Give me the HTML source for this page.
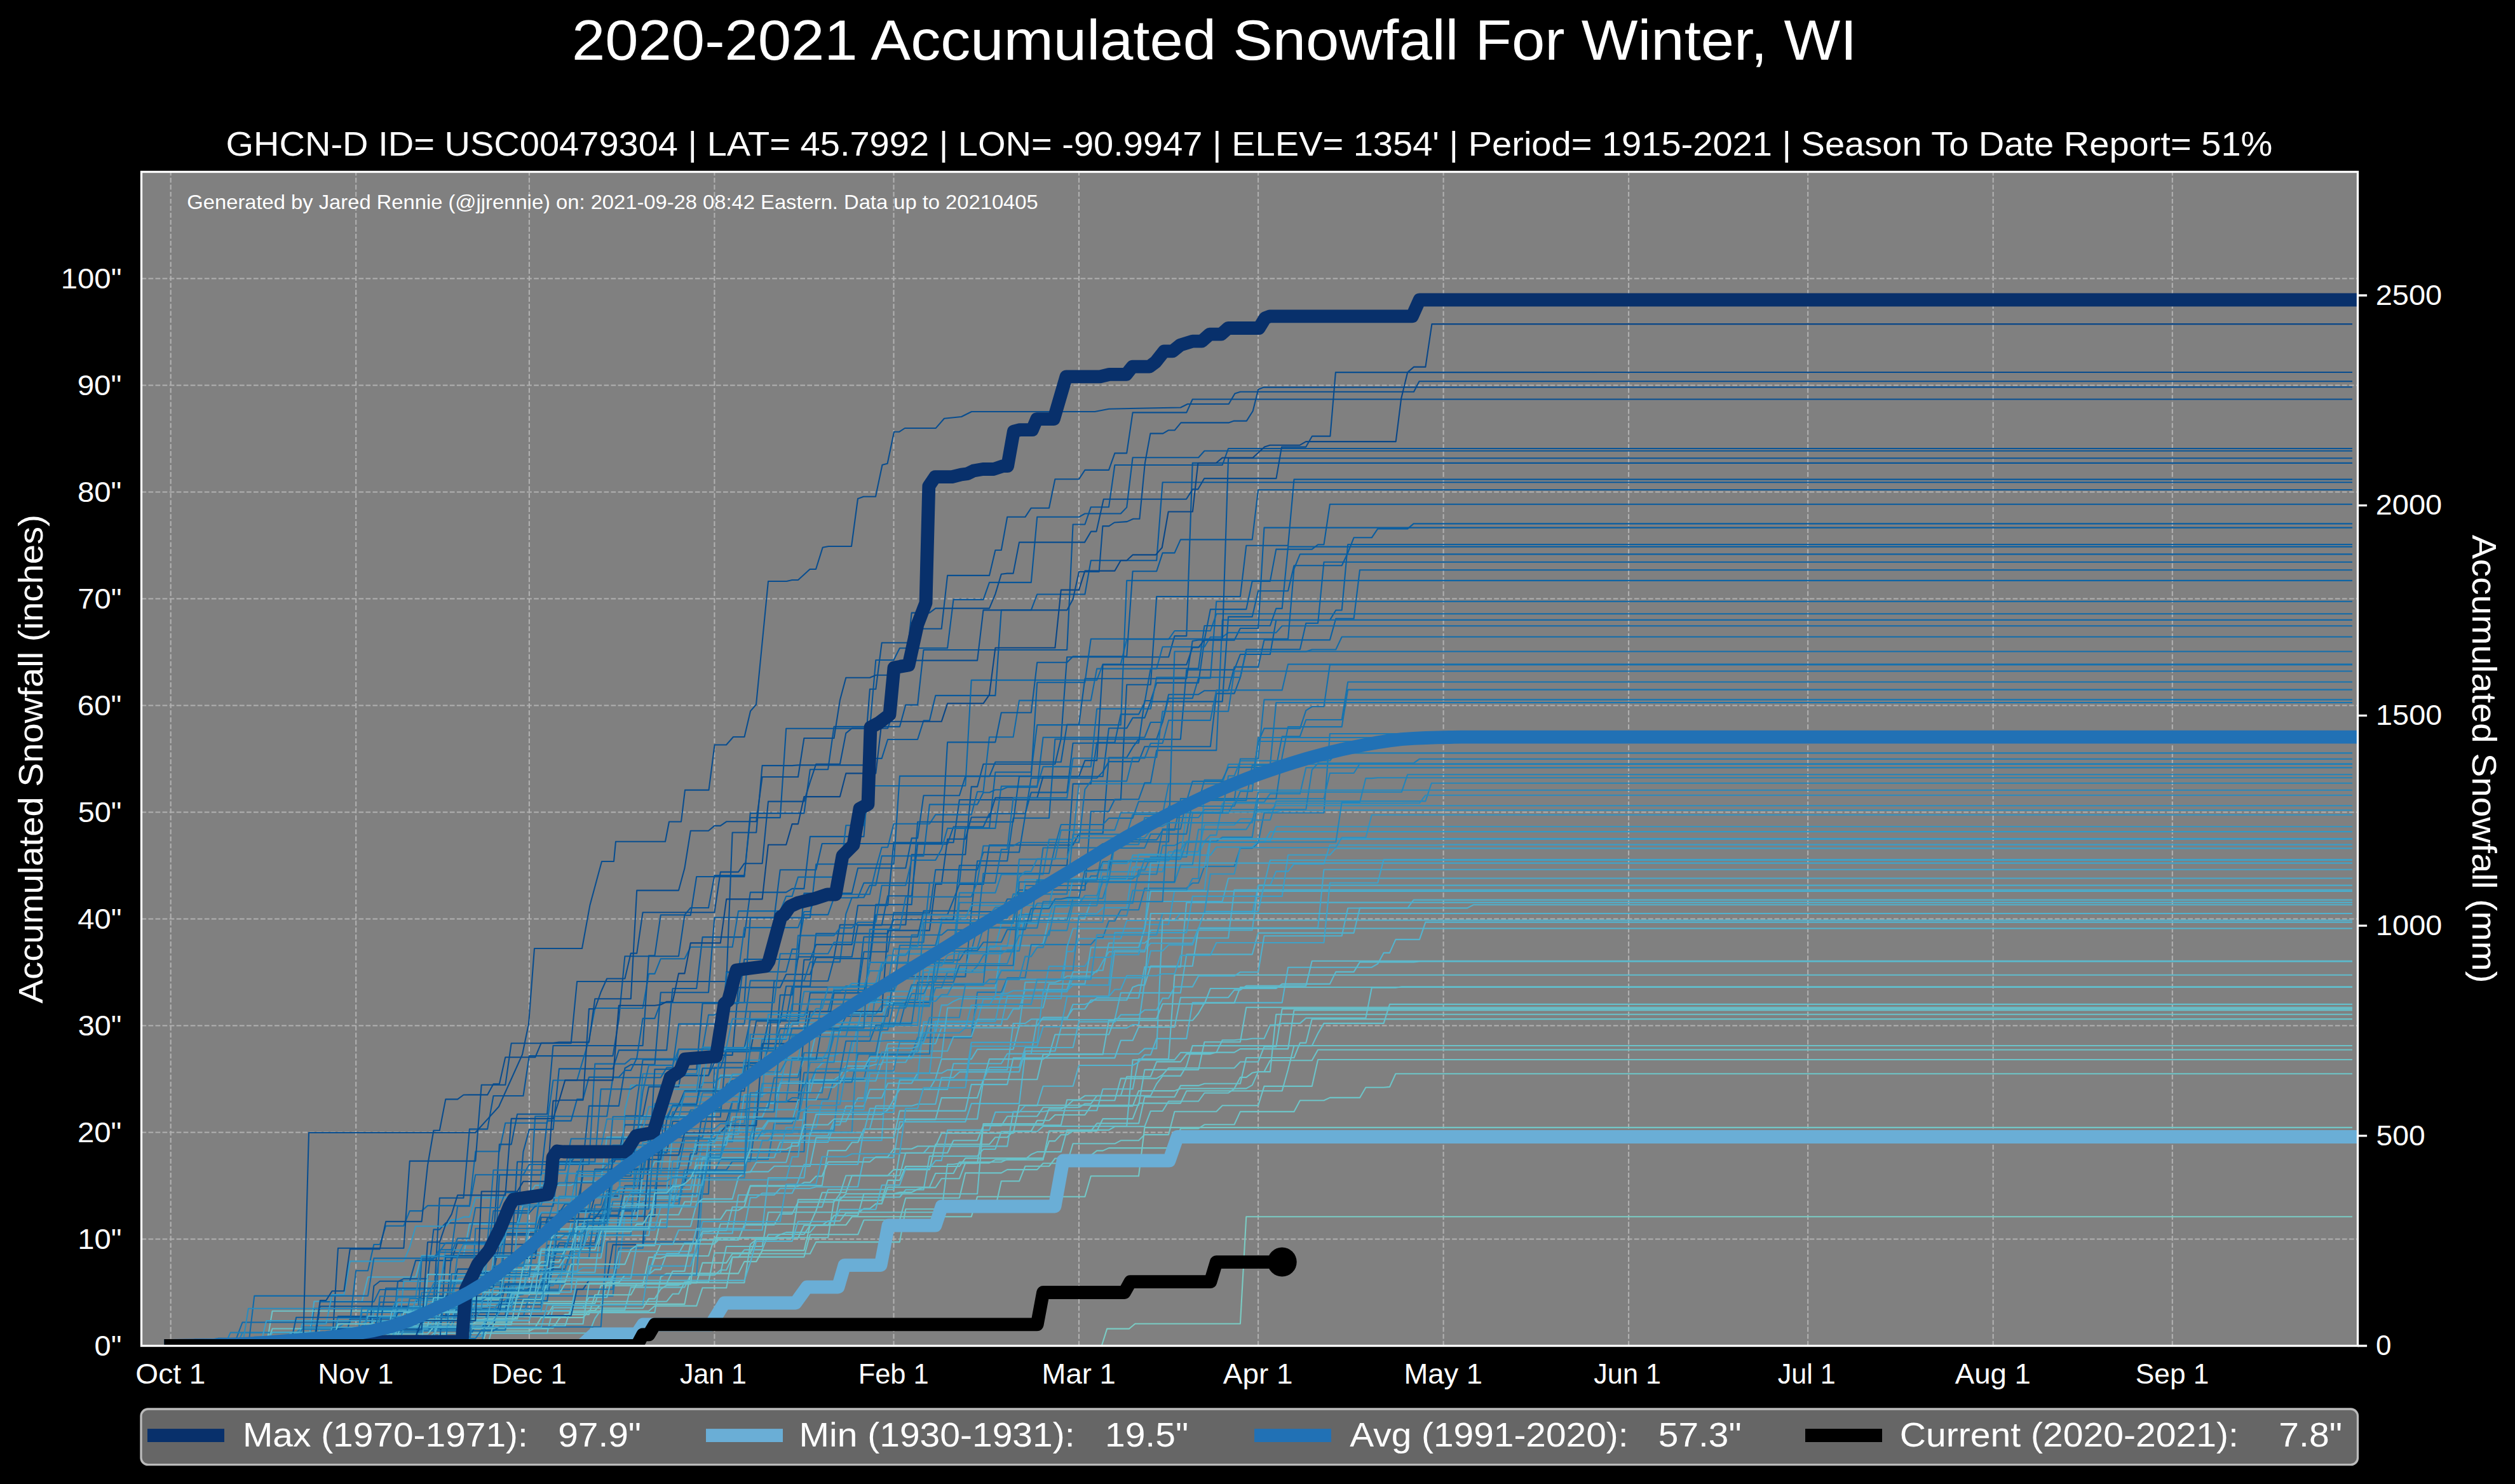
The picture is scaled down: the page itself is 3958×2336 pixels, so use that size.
<!DOCTYPE html><html><head><meta charset="utf-8"><title>Accumulated Snowfall</title><style>html,body{margin:0;padding:0;background:#000;overflow:hidden}svg{display:block}</style></head><body>
<svg width="3958" height="2336" viewBox="0 0 3958 2336" font-family="Liberation Sans, sans-serif">
<rect x="0" y="0" width="3958" height="2336" fill="#000"/>
<defs><clipPath id="ax"><rect x="222.5" y="270.5" width="3488.0" height="1848.0"/></clipPath></defs>
<rect x="222.5" y="270.5" width="3488.0" height="1848.0" fill="#808080"/>
<path d="M268.7 2118.5V270.5M560.2 2118.5V270.5M832.9 2118.5V270.5M1124.4 2118.5V270.5M1406.5 2118.5V270.5M1698.0 2118.5V270.5M1980.1 2118.5V270.5M2271.6 2118.5V270.5M2563.1 2118.5V270.5M2845.2 2118.5V270.5M3136.7 2118.5V270.5M3418.8 2118.5V270.5M222.5 2118.5H3710.5M222.5 1950.5H3710.5M222.5 1782.5H3710.5M222.5 1614.5H3710.5M222.5 1446.5H3710.5M222.5 1278.5H3710.5M222.5 1110.5H3710.5M222.5 942.5H3710.5M222.5 774.5H3710.5M222.5 606.5H3710.5M222.5 438.5H3710.5" stroke="#b0b0b0" stroke-width="2.08" stroke-dasharray="7.7 3.33" fill="none"/>
<g clip-path="url(#ax)" fill="none" stroke-linejoin="round" stroke-linecap="square" stroke-width="2.08">
<path d="M268.7 2118.5 419.2 2118.5 428.6 2114.4 550.8 2114.4 560.2 2113.7 569.6 2090.5 654.2 2090.5 663.6 2077.5 776.5 2077.5 785.9 2057.4 795.3 2057.4 804.7 2052.0 936.3 2052.0 945.7 2023.7 1011.6 2023.7 1021.0 1979.1 1030.4 1979.1 1039.8 1958.2 1124.4 1958.2 1133.8 1926.8 1274.9 1926.8 1284.3 1905.9 1293.7 1877.3 1331.3 1877.3 1340.7 1850.6 1397.1 1850.6 1406.5 1841.1 1462.9 1841.1 1472.3 1801.3 1557.0 1801.3 1566.4 1790.2 1585.2 1790.2 1594.6 1780.5 1622.8 1780.5 1632.2 1763.7 1651.0 1763.7 1660.4 1755.0 1707.4 1755.0 1716.8 1741.1 1782.6 1741.1 1792.0 1717.1 1848.5 1717.1 1857.9 1713.5 1942.5 1713.5 1951.9 1695.9 1961.3 1695.9 1970.7 1688.8 1980.1 1687.0 1989.5 1687.0 1998.9 1669.2 2064.7 1669.2 2074.1 1652.5 3700.9 1652.5" stroke="#6bc4c9"/>
<path d="M268.7 2118.5 494.4 2118.5 503.8 2056.2 682.4 2056.2 691.8 1885.7 729.5 1885.7 738.9 1777.4 767.1 1777.4 776.5 1725.0 823.5 1725.0 832.9 1662.1 964.5 1662.1 973.9 1604.7 983.4 1505.2 1068.0 1505.2 1077.4 1440.7 1086.8 1440.7 1096.2 1380.0 1171.4 1380.0 1180.8 1280.1 1265.4 1280.1 1274.9 1211.2 1303.1 1211.2 1312.5 1143.9 1415.9 1143.9 1425.3 1109.6 1444.1 1109.6 1453.5 1023.0 1679.2 1023.0 1688.6 825.5 1707.4 825.5 1716.8 798.2 1745.0 798.2 1754.4 732.0 1923.7 732.0 1933.1 706.0 3700.9 706.0" stroke="#085497"/>
<path d="M268.7 2118.5 616.6 2118.5 626.0 2017.4 635.4 2012.9 673.0 2012.9 682.4 1935.4 691.8 1935.4 701.3 1925.1 814.1 1925.1 823.5 1813.0 832.9 1777.9 870.5 1777.9 879.9 1682.4 964.5 1682.4 973.9 1653.1 1049.2 1653.1 1058.6 1556.0 1096.2 1556.0 1105.6 1475.1 1162.0 1475.1 1171.4 1475.0 1180.8 1404.6 1237.2 1404.6 1246.6 1398.9 1265.4 1398.9 1274.9 1316.9 1359.5 1316.9 1368.9 1193.9 1387.7 1193.9 1397.1 1164.0 1444.1 1164.0 1453.5 1134.2 1462.9 1134.2 1472.3 1094.9 1566.4 1094.9 1575.8 960.3 1622.8 960.3 1632.2 935.5 1707.4 935.5 1716.8 882.3 1820.2 882.3 1829.6 759.3 3700.9 759.3" stroke="#08589c"/>
<path d="M268.7 2118.5 485.0 2118.5 494.4 2059.8 851.7 2059.8 861.1 1960.6 945.7 1960.6 955.1 1906.2 1002.2 1906.2 1011.6 1814.8 1049.2 1814.8 1058.6 1765.1 1143.2 1765.1 1152.6 1734.1 1256.0 1734.1 1265.4 1625.4 1274.9 1562.8 1359.5 1562.8 1368.9 1515.9 1378.3 1439.8 1491.1 1439.8 1500.5 1416.4 1509.9 1392.0 1547.5 1392.0 1557.0 1330.3 1688.6 1330.3 1698.0 1312.4 1735.6 1312.4 1745.0 1192.6 1773.2 1192.6 1782.6 1176.4 1792.0 1163.7 1857.9 1163.7 1867.3 1054.4 1942.5 1054.4 1951.9 1030.0 1998.9 1030.0 2008.3 976.1 2092.9 976.1 2102.3 960.5 2111.7 960.5 2121.2 857.0 3700.9 857.0" stroke="#085fa3"/>
<path d="M268.7 2118.5 485.0 2118.5 494.4 2048.5 569.6 2048.5 579.0 2010.3 654.2 2010.3 663.6 1976.6 729.5 1976.6 738.9 1926.6 814.1 1926.6 823.5 1895.2 832.9 1880.9 842.3 1865.7 898.7 1865.7 908.1 1859.7 945.7 1859.7 955.1 1790.1 1002.2 1790.1 1011.6 1756.6 1124.4 1756.6 1133.8 1692.6 1152.6 1692.6 1162.0 1691.1 1256.0 1691.1 1265.4 1665.8 1274.9 1665.8 1284.3 1625.7 1321.9 1625.7 1331.3 1594.0 1387.7 1594.0 1397.1 1579.7 1425.3 1579.7 1434.7 1555.4 1566.4 1555.4 1575.8 1488.5 1632.2 1488.5 1641.6 1484.9 1651.0 1445.1 1707.4 1445.1 1716.8 1419.0 1923.7 1419.0 1933.1 1382.5 3700.9 1382.5" stroke="#46a8cb"/>
<path d="M268.7 2118.5 729.5 2118.5 738.9 2072.6 823.5 2072.6 832.9 2040.0 964.5 2040.0 973.9 1964.6 1011.6 1964.6 1021.0 1911.4 1030.4 1897.4 1068.0 1897.4 1077.4 1854.4 1096.2 1854.4 1105.6 1845.2 1124.4 1845.2 1133.8 1824.9 1209.0 1824.9 1218.4 1768.7 1246.6 1768.7 1256.0 1730.3 1303.1 1730.3 1312.5 1698.9 1359.5 1698.9 1368.9 1660.6 1434.7 1660.6 1444.1 1633.4 1528.7 1633.4 1538.1 1561.9 1575.8 1561.9 1585.2 1539.3 1613.4 1539.3 1622.8 1486.9 1716.8 1486.9 1726.2 1476.0 1735.6 1476.0 1745.0 1449.8 1754.4 1449.8 1763.8 1432.3 1792.0 1432.3 1801.4 1398.2 1867.3 1398.2 1876.7 1390.0 1886.1 1390.0 1895.5 1364.0 1904.9 1363.7 1942.5 1363.7 1951.9 1335.2 1970.7 1335.2 1980.1 1326.6 1989.5 1279.5 2083.5 1279.5 2092.9 1155.0 3700.9 1155.0" stroke="#1a7ab5"/>
<path d="M268.7 2118.5 513.2 2118.5 522.6 2103.5 757.7 2103.5 767.1 2060.9 851.7 2060.9 861.1 2022.7 870.5 2000.9 908.1 2000.9 917.5 1995.7 973.9 1995.7 983.4 1913.1 1011.6 1913.1 1021.0 1874.8 1058.6 1874.8 1068.0 1820.4 1133.8 1820.4 1143.2 1796.5 1180.8 1796.5 1190.2 1786.3 1199.6 1786.3 1209.0 1779.7 1218.4 1779.7 1227.8 1702.2 1312.5 1702.2 1321.9 1697.1 1444.1 1697.1 1453.5 1608.6 1538.1 1608.6 1547.5 1572.6 1575.8 1572.6 1585.2 1541.6 1669.8 1541.6 1679.2 1497.7 1688.6 1497.7 1698.0 1477.5 1763.8 1477.5 1773.2 1449.0 1848.5 1449.0 1857.9 1437.6 1970.7 1437.6 1980.1 1393.6 1998.9 1393.6 2008.3 1371.6 2027.1 1371.6 2036.5 1359.9 2083.5 1359.9 2092.9 1330.3 2262.2 1330.3 2271.6 1329.6 3700.9 1329.6" stroke="#3a9cc7"/>
<path d="M268.7 2118.5 485.0 2118.5 494.4 2112.8 522.6 2112.8 532.0 2072.1 729.5 2072.1 738.9 2002.9 776.5 2002.9 785.9 1958.8 851.7 1958.8 861.1 1918.3 926.9 1918.3 936.3 1882.8 973.9 1882.8 983.4 1756.6 1011.6 1756.6 1021.0 1710.7 1068.0 1710.7 1077.4 1660.9 1152.6 1660.9 1162.0 1554.4 1227.8 1554.4 1237.2 1533.7 1274.9 1533.7 1284.3 1507.1 1312.5 1507.1 1321.9 1455.7 1425.3 1455.7 1434.7 1345.2 1519.3 1345.2 1528.7 1238.4 1538.1 1238.4 1547.5 1202.7 1660.4 1202.7 1669.8 1162.7 1679.2 1034.2 1839.1 1034.2 1848.5 1001.1 1867.3 1001.1 1876.7 728.9 3700.9 728.9" stroke="#085699"/>
<path d="M268.7 2118.5 466.2 2118.5 475.6 2113.3 710.7 2113.3 720.1 2098.5 926.9 2098.5 936.3 2075.3 945.7 2061.8 983.4 2061.8 992.8 2026.4 1077.4 2026.4 1086.8 2007.2 1124.4 2007.2 1133.8 1999.3 1143.2 1999.3 1152.6 1979.3 1162.0 1979.3 1171.4 1967.4 1199.6 1967.4 1209.0 1943.4 1227.8 1943.4 1237.2 1939.9 1274.9 1939.9 1284.3 1928.4 1312.5 1928.4 1321.9 1884.5 1415.9 1884.5 1425.3 1872.8 1453.5 1872.8 1462.9 1819.9 1538.1 1819.9 1547.5 1809.0 1566.4 1809.0 1575.8 1781.2 1632.2 1781.2 1641.6 1772.9 1773.2 1772.9 1782.6 1668.4 1848.5 1668.4 1857.9 1656.9 1914.3 1656.9 1923.7 1637.2 1942.5 1637.2 1951.9 1636.3 1961.3 1636.3 1970.7 1634.8 1989.5 1634.8 1998.9 1613.6 2008.3 1613.6 2017.7 1610.9 2045.9 1610.9 2055.3 1602.6 2149.4 1602.6 2158.8 1554.7 2196.4 1554.7 2205.8 1553.3 3700.9 1553.3" stroke="#61becc"/>
<path d="M268.7 2118.5 447.4 2118.5 456.8 2115.9 494.4 2115.9 503.8 2091.3 682.4 2091.3 691.8 2072.4 729.5 2072.4 738.9 2001.3 823.5 2001.3 832.9 1971.5 889.3 1971.5 898.7 1924.7 992.8 1924.7 1002.2 1895.7 1058.6 1895.7 1068.0 1834.5 1086.8 1834.5 1096.2 1791.5 1143.2 1791.5 1152.6 1781.2 1199.6 1781.2 1209.0 1765.2 1246.6 1765.2 1256.0 1731.2 1284.3 1731.2 1293.7 1711.5 1312.5 1711.5 1321.9 1701.5 1378.3 1701.5 1387.7 1672.2 1425.3 1672.2 1434.7 1654.5 1491.1 1654.5 1500.5 1631.9 1528.7 1631.9 1538.1 1604.6 1585.2 1604.6 1594.6 1588.3 1604.0 1588.3 1613.4 1557.7 1679.2 1557.7 1688.6 1530.1 1726.2 1530.1 1735.6 1513.4 1745.0 1498.3 1801.4 1498.3 1810.8 1464.2 1970.7 1464.2 1980.1 1393.6 3700.9 1393.6" stroke="#49abcb"/>
<path d="M268.7 2118.5 597.8 2118.5 607.2 2105.2 720.1 2105.2 729.5 2088.0 738.9 2088.0 748.3 2081.2 804.7 2081.2 814.1 2071.0 861.1 2071.0 870.5 2054.9 945.7 2054.9 955.1 2018.8 973.9 2018.8 983.4 2007.1 1021.0 2007.1 1030.4 1980.5 1039.8 1980.5 1049.2 1977.0 1115.0 1977.0 1124.4 1948.4 1171.4 1948.4 1180.8 1948.3 1303.1 1948.3 1312.5 1889.6 1387.7 1889.6 1397.1 1857.9 1415.9 1857.9 1425.3 1836.0 1509.9 1836.0 1519.3 1823.1 1641.6 1823.1 1651.0 1796.1 1660.4 1796.1 1669.8 1786.3 1679.2 1786.3 1688.6 1780.4 1726.2 1780.4 1735.6 1761.1 1782.6 1761.1 1792.0 1736.6 1857.9 1736.6 1867.3 1717.2 2017.7 1717.2 2027.1 1683.5 2036.5 1646.0 3700.9 1646.0" stroke="#6bc3c9"/>
<path d="M268.7 2118.5 541.4 2118.5 550.8 2095.7 588.4 2095.7 597.8 2049.7 654.2 2049.7 663.6 2039.7 785.9 2039.7 795.3 1944.3 842.3 1944.3 851.7 1909.3 879.9 1909.3 889.3 1895.2 908.1 1895.2 917.5 1851.2 992.8 1851.2 1002.2 1785.2 1021.0 1785.2 1030.4 1775.8 1039.8 1758.3 1133.8 1758.3 1143.2 1649.7 1171.4 1649.7 1180.8 1605.1 1237.2 1605.1 1246.6 1553.8 1350.1 1553.8 1359.5 1474.7 1444.1 1474.7 1453.5 1433.9 1528.7 1433.9 1538.1 1355.2 1585.2 1355.2 1594.6 1287.7 1651.0 1287.7 1660.4 1163.5 1820.2 1163.5 1829.6 1136.1 1839.1 1093.2 1886.1 1093.2 1895.5 1087.2 1933.1 1087.2 1942.5 1049.9 1980.1 1049.9 1989.5 1007.4 2092.9 1007.4 2102.3 973.8 2130.6 973.8 2140.0 897.2 3700.9 897.2" stroke="#0a62a5"/>
<path d="M268.7 2118.5 372.1 2118.5 381.5 2097.7 466.2 2097.7 475.6 2089.1 532.0 2089.1 541.4 2083.6 569.6 2083.6 579.0 2079.6 701.3 2079.6 710.7 2017.9 785.9 2017.9 795.3 1933.2 814.1 1933.2 823.5 1899.8 842.3 1899.8 851.7 1888.8 861.1 1885.9 889.3 1885.9 898.7 1805.0 1002.2 1805.0 1011.6 1690.3 1096.2 1690.3 1105.6 1649.1 1227.8 1649.1 1237.2 1612.3 1256.0 1612.3 1265.4 1560.7 1321.9 1560.7 1331.3 1552.0 1397.1 1552.0 1406.5 1493.6 1500.5 1493.6 1509.9 1405.4 1566.4 1405.4 1575.8 1376.5 1641.6 1376.5 1651.0 1321.4 1688.6 1321.4 1698.0 1233.8 1923.7 1233.8 1933.1 1203.0 3700.9 1203.0" stroke="#1f80b8"/>
<path d="M268.7 2118.5 419.2 2118.5 428.6 2063.8 1021.0 2063.8 1030.4 2055.6 1096.2 2055.6 1105.6 2027.2 1143.2 2027.2 1152.6 1978.6 1265.4 1978.6 1274.9 1943.3 1350.1 1943.3 1359.5 1920.5 1415.9 1920.5 1425.3 1885.8 1509.9 1885.8 1519.3 1846.4 1575.8 1846.4 1585.2 1841.1 1632.2 1841.1 1641.6 1831.3 1679.2 1831.3 1688.6 1800.3 1754.4 1800.3 1763.8 1795.3 1792.0 1795.3 1801.4 1786.1 1839.1 1786.1 1848.5 1749.8 1914.3 1749.8 1923.7 1740.3 1980.1 1740.3 1989.5 1709.9 2064.7 1709.9 2074.1 1668.0 3700.9 1668.0" stroke="#6cc4c9"/>
<path d="M268.7 2118.5 541.4 2118.5 550.8 2076.3 616.6 2076.3 626.0 2057.1 682.4 2057.1 691.8 2041.1 710.7 2041.1 720.1 1997.6 757.7 1997.6 767.1 1954.5 785.9 1954.5 795.3 1941.9 908.1 1941.9 917.5 1832.2 964.5 1832.2 973.9 1816.0 983.4 1770.6 1039.8 1770.6 1049.2 1693.2 1115.0 1693.2 1124.4 1655.5 1180.8 1655.5 1190.2 1607.3 1256.0 1607.3 1265.4 1510.8 1274.9 1510.8 1284.3 1486.9 1340.7 1486.9 1350.1 1425.2 1397.1 1425.2 1406.5 1326.3 1500.5 1326.3 1509.9 1259.0 1763.8 1259.0 1773.2 1077.8 1810.8 1077.8 1820.2 939.0 1951.9 939.0 1961.3 858.8 2027.1 858.8 2036.5 754.6 3700.9 754.6" stroke="#08589b"/>
<path d="M268.7 2118.5 682.4 2118.5 691.8 2099.9 701.3 2099.9 710.7 2048.7 1049.2 2048.7 1058.6 2036.8 1068.0 2036.8 1077.4 2018.2 1115.0 2018.2 1124.4 1972.3 1180.8 1972.3 1190.2 1948.8 1218.4 1948.8 1227.8 1943.0 1265.4 1943.0 1274.9 1928.8 1293.7 1928.8 1303.1 1922.0 1321.9 1922.0 1331.3 1909.4 1350.1 1909.4 1359.5 1902.5 1368.9 1902.5 1378.3 1894.9 1387.7 1894.9 1397.1 1868.7 1462.9 1868.7 1472.3 1847.0 1500.5 1847.0 1509.9 1829.3 1575.8 1829.3 1585.2 1824.9 1613.4 1824.9 1622.8 1817.3 1632.2 1813.1 1669.8 1813.1 1679.2 1778.9 1745.0 1778.9 1754.4 1773.3 1801.4 1773.3 1810.8 1749.0 1829.6 1749.0 1839.1 1733.5 1886.1 1733.5 1895.5 1720.5 1933.1 1720.5 1942.5 1713.8 1951.9 1713.4 1961.3 1713.4 1970.7 1708.1 1980.1 1687.1 1998.9 1687.1 2008.3 1596.7 3700.9 1596.7" stroke="#68c2ca"/>
<path d="M268.7 2118.5 438.0 2118.5 447.4 2109.7 494.4 2109.7 503.8 2049.1 588.4 2049.1 597.8 2030.0 673.0 2030.0 682.4 2026.9 691.8 2026.9 701.3 1979.6 767.1 1979.6 776.5 1906.0 832.9 1906.0 842.3 1757.3 955.1 1757.3 964.5 1696.3 1039.8 1696.3 1049.2 1680.6 1058.6 1680.6 1068.0 1611.9 1171.4 1611.9 1180.8 1543.6 1265.4 1543.6 1274.9 1514.4 1321.9 1514.4 1331.3 1438.7 1340.7 1412.8 1359.5 1412.8 1368.9 1393.6 1378.3 1393.6 1387.7 1347.4 1453.5 1347.4 1462.9 1266.4 1538.1 1266.4 1547.5 1247.5 1557.0 1247.5 1566.4 1243.3 1575.8 1243.3 1585.2 1239.2 1632.2 1239.2 1641.6 1160.7 1801.4 1160.7 1810.8 1137.0 1829.6 1137.0 1839.1 1099.1 1876.7 1099.1 1886.1 1067.5 1904.9 1067.5 1914.3 946.7 3700.9 946.7" stroke="#0d67a8"/>
<path d="M268.7 2118.5 579.0 2118.5 588.4 2062.2 804.7 2062.2 814.1 1925.4 842.3 1925.4 851.7 1908.4 955.1 1908.4 964.5 1808.7 1021.0 1808.7 1030.4 1807.9 1180.8 1807.9 1190.2 1718.9 1199.6 1712.0 1227.8 1712.0 1237.2 1664.5 1293.7 1664.5 1303.1 1662.0 1312.5 1662.0 1321.9 1656.9 1340.7 1656.9 1350.1 1613.3 1387.7 1613.3 1397.1 1568.8 1566.4 1568.8 1575.8 1488.7 1604.0 1488.7 1613.4 1438.1 1726.2 1438.1 1735.6 1428.9 1773.2 1428.9 1782.6 1365.1 1895.5 1365.1 1904.9 1320.0 3700.9 1320.0" stroke="#379ac6"/>
<path d="M268.7 2118.5 607.2 2118.5 616.6 2091.4 710.7 2091.4 720.1 2061.5 795.3 2061.5 804.7 2029.5 964.5 2029.5 973.9 1904.8 992.8 1904.8 1002.2 1839.4 1068.0 1839.4 1077.4 1793.0 1124.4 1793.0 1133.8 1782.3 1143.2 1782.3 1152.6 1734.6 1237.2 1734.6 1246.6 1728.0 1256.0 1728.0 1265.4 1706.9 1274.9 1703.4 1340.7 1703.4 1350.1 1659.3 1462.9 1659.3 1472.3 1497.2 1528.7 1497.2 1538.1 1459.9 1604.0 1459.9 1613.4 1394.0 1707.4 1394.0 1716.8 1378.9 1726.2 1378.9 1735.6 1356.2 1820.2 1356.2 1829.6 1305.1 1857.9 1305.1 1867.3 1259.2 1942.5 1259.2 1951.9 1194.5 1980.1 1194.5 1989.5 1101.4 3700.9 1101.4" stroke="#1775b1"/>
<path d="M268.7 2118.5 757.7 2118.5 767.1 2089.4 842.3 2089.4 851.7 2074.0 917.5 2074.0 926.9 2063.0 936.3 2063.0 945.7 2052.9 1077.4 2052.9 1086.8 2004.6 1162.0 2004.6 1171.4 1985.9 1190.2 1985.9 1199.6 1968.4 1265.4 1968.4 1274.9 1928.3 1331.3 1928.3 1340.7 1915.3 1528.7 1915.3 1538.1 1883.7 1707.4 1883.7 1716.8 1851.3 1792.0 1851.3 1801.4 1774.9 3700.9 1774.9" stroke="#72c8c7"/>
<path d="M268.7 2118.5 541.4 2118.5 550.8 2091.9 701.3 2091.9 710.7 2079.9 720.1 2056.0 776.5 2056.0 785.9 2053.6 851.7 2053.6 861.1 1998.6 870.5 1998.6 879.9 1906.1 945.7 1906.1 955.1 1879.5 1115.0 1879.5 1124.4 1680.6 1171.4 1680.6 1180.8 1674.3 1199.6 1674.3 1209.0 1650.5 1218.4 1650.5 1227.8 1619.1 1321.9 1619.1 1331.3 1599.7 1397.1 1599.7 1406.5 1537.4 1519.3 1537.4 1528.7 1435.1 1575.8 1435.1 1585.2 1415.3 1594.6 1415.3 1604.0 1401.0 1707.4 1401.0 1716.8 1277.3 1745.0 1277.3 1754.4 1258.3 1792.0 1258.3 1801.4 1232.3 1810.8 1232.3 1820.2 1181.1 1914.3 1181.1 1923.7 975.9 3700.9 975.9" stroke="#0f69aa"/>
<path d="M268.7 2118.5 296.9 2118.5 306.3 2113.3 560.2 2113.3 569.6 2066.0 673.0 2066.0 682.4 2048.7 710.7 2048.7 720.1 1976.4 785.9 1976.4 795.3 1927.1 861.1 1927.1 870.5 1894.3 898.7 1894.3 908.1 1843.9 945.7 1843.9 955.1 1834.2 964.5 1823.8 1021.0 1823.8 1030.4 1737.4 1096.2 1737.4 1105.6 1704.2 1124.4 1704.2 1133.8 1695.7 1190.2 1695.7 1199.6 1635.9 1237.2 1635.9 1246.6 1580.5 1359.5 1580.5 1368.9 1576.5 1378.3 1576.5 1387.7 1516.1 1472.3 1516.1 1481.7 1447.8 1538.1 1447.8 1547.5 1445.8 1585.2 1445.8 1594.6 1407.4 1679.2 1407.4 1688.6 1313.4 1773.2 1313.4 1782.6 1282.0 1829.6 1282.0 1839.1 1233.9 1970.7 1233.9 1980.1 1167.0 3700.9 1167.0" stroke="#1b7bb5"/>
<path d="M268.7 2118.5 390.9 2118.5 400.3 2106.0 466.2 2106.0 475.6 2092.2 579.0 2092.2 588.4 2079.6 710.7 2079.6 720.1 2042.5 757.7 2042.5 767.1 2026.2 776.5 2026.2 785.9 2009.6 842.3 2009.6 851.7 1965.5 908.1 1965.5 917.5 1923.7 945.7 1923.7 955.1 1894.8 1011.6 1894.8 1021.0 1872.3 1086.8 1872.3 1096.2 1824.5 1133.8 1824.5 1143.2 1789.7 1180.8 1789.7 1190.2 1776.4 1199.6 1776.4 1209.0 1763.1 1265.4 1763.1 1274.9 1699.9 1312.5 1699.9 1321.9 1693.5 1331.3 1678.1 1368.9 1678.1 1378.3 1675.5 1387.7 1675.5 1397.1 1643.0 1472.3 1643.0 1481.7 1617.8 1604.0 1617.8 1613.4 1546.3 1660.4 1546.3 1669.8 1542.8 1679.2 1536.5 1716.8 1536.5 1726.2 1527.5 1735.6 1527.5 1745.0 1484.5 1801.4 1484.5 1810.8 1476.5 1933.1 1476.5 1942.5 1400.8 3700.9 1400.8" stroke="#4badcc"/>
<path d="M268.7 2118.5 296.9 2118.5 306.3 2108.6 334.5 2108.6 343.9 2106.7 372.1 2106.7 381.5 2081.5 550.8 2081.5 560.2 2000.3 579.0 2000.3 588.4 1959.0 597.8 1959.0 607.2 1929.7 635.4 1929.7 644.8 1906.1 663.6 1906.1 673.0 1897.9 738.9 1897.9 748.3 1812.5 785.9 1812.5 795.3 1767.7 861.1 1767.7 870.5 1700.5 908.1 1700.5 917.5 1668.1 926.9 1637.0 936.3 1587.0 1011.6 1587.0 1021.0 1532.9 1030.4 1532.9 1039.8 1509.2 1077.4 1509.2 1086.8 1490.8 1152.6 1490.8 1162.0 1434.1 1227.8 1434.1 1237.2 1410.9 1246.6 1410.9 1256.0 1380.6 1321.9 1380.6 1331.3 1299.3 1359.5 1299.3 1368.9 1237.0 1519.3 1237.0 1528.7 1070.6 1726.2 1070.6 1735.6 1045.6 1763.8 1045.6 1773.2 1006.3 1839.1 1006.3 1848.5 993.0 1904.9 993.0 1914.3 966.3 3700.9 966.3" stroke="#0e69a9"/>
<path d="M268.7 2118.5 616.6 2118.5 626.0 2116.2 757.7 2116.2 767.1 2071.2 795.3 2071.2 804.7 1981.0 842.3 1981.0 851.7 1923.4 955.1 1923.4 964.5 1812.9 1039.8 1812.9 1049.2 1692.8 1115.0 1692.8 1124.4 1672.8 1218.4 1672.8 1227.8 1566.3 1246.6 1566.3 1256.0 1506.3 1340.7 1506.3 1350.1 1456.4 1387.7 1456.4 1397.1 1410.2 1434.7 1410.2 1444.1 1328.6 1491.1 1328.6 1500.5 1301.5 1547.5 1301.5 1557.0 1280.7 1613.4 1280.7 1622.8 1247.4 1679.2 1247.4 1688.6 1169.7 1792.0 1169.7 1801.4 1103.0 1810.8 1103.0 1820.2 1074.9 1886.1 1074.9 1895.5 1007.8 1942.5 1007.8 1951.9 989.0 1980.1 989.0 1989.5 830.6 3700.9 830.6" stroke="#085da1"/>
<path d="M268.7 2118.5 682.4 2118.5 691.8 1957.1 776.5 1957.1 785.9 1938.8 795.3 1938.8 804.7 1909.4 832.9 1909.4 842.3 1898.7 870.5 1898.7 879.9 1828.7 898.7 1828.7 908.1 1817.1 992.8 1817.1 1002.2 1734.3 1011.6 1668.3 1133.8 1668.3 1143.2 1529.7 1237.2 1529.7 1246.6 1494.1 1256.0 1494.1 1265.4 1439.9 1303.1 1439.9 1312.5 1413.2 1350.1 1413.2 1359.5 1389.9 1509.9 1389.9 1519.3 1303.3 1557.0 1303.3 1566.4 1215.5 1622.8 1215.5 1632.2 1141.1 1763.8 1141.1 1773.2 913.9 3700.9 913.9" stroke="#0b64a6"/>
<path d="M268.7 2118.5 513.2 2118.5 522.6 2094.4 663.6 2094.4 673.0 2055.3 804.7 2055.3 814.1 2044.3 823.5 2029.6 832.9 1976.3 861.1 1976.3 870.5 1944.9 1021.0 1944.9 1030.4 1886.2 1068.0 1886.2 1077.4 1845.4 1171.4 1845.4 1180.8 1788.0 1303.1 1788.0 1312.5 1765.4 1331.3 1765.4 1340.7 1745.1 1350.1 1728.4 1387.7 1728.4 1397.1 1705.3 1434.7 1705.3 1444.1 1689.3 1481.7 1689.3 1491.1 1684.1 1585.2 1684.1 1594.6 1611.0 1613.4 1611.0 1622.8 1604.4 1679.2 1604.4 1688.6 1581.0 1707.4 1581.0 1716.8 1577.8 1726.2 1571.0 1792.0 1571.0 1801.4 1522.1 1857.9 1522.1 1867.3 1420.6 3700.9 1420.6" stroke="#4fb0cd"/>
<path d="M268.7 2118.5 522.6 2118.5 532.0 1964.8 635.4 1964.8 644.8 1827.6 748.3 1827.6 757.7 1707.8 795.3 1707.8 804.7 1642.2 898.7 1642.2 908.1 1545.0 1143.2 1545.0 1152.6 1310.5 1190.2 1310.5 1199.6 1205.1 1246.6 1205.1 1256.0 1204.4 1359.5 1204.4 1368.9 1084.8 1378.3 1084.8 1387.7 1011.8 1434.7 1011.8 1444.1 989.8 1481.7 989.8 1491.1 905.9 1557.0 905.9 1566.4 866.0 1575.8 866.0 1585.2 813.8 1613.4 813.8 1622.8 799.7 1651.0 799.7 1660.4 754.2 1698.0 754.2 1707.4 739.9 1745.0 739.9 1754.4 713.4 1773.2 713.4 1782.6 649.4 1867.3 649.4 1876.7 628.5 3700.9 628.5" stroke="#084f91"/>
<path d="M268.7 2118.5 522.6 2118.5 532.0 2074.6 644.8 2074.6 654.2 2046.6 710.7 2046.6 720.1 2010.3 823.5 2010.3 832.9 1887.9 851.7 1887.9 861.1 1831.1 992.8 1831.1 1002.2 1777.5 1011.6 1777.5 1021.0 1742.3 1068.0 1742.3 1077.4 1726.3 1199.6 1726.3 1209.0 1596.9 1303.1 1596.9 1312.5 1555.5 1331.3 1555.5 1340.7 1548.1 1378.3 1548.1 1387.7 1514.8 1406.5 1514.8 1415.9 1501.6 1472.3 1501.6 1481.7 1444.7 1519.3 1444.7 1528.7 1425.3 1651.0 1425.3 1660.4 1384.1 1669.8 1384.1 1679.2 1377.5 1688.6 1377.5 1698.0 1372.3 1829.6 1372.3 1839.1 1340.7 1886.1 1340.7 1895.5 1298.5 1942.5 1298.5 1951.9 1289.0 1970.7 1289.0 1980.1 1275.6 1998.9 1275.6 2008.3 1268.2 3700.9 1268.2" stroke="#2c8fc0"/>
<path d="M268.7 2118.5 466.2 2118.5 475.6 2083.9 513.2 2083.9 522.6 2038.1 541.4 2038.1 550.8 1985.4 635.4 1985.4 644.8 1963.3 654.2 1930.2 701.3 1930.2 710.7 1920.0 720.1 1920.0 729.5 1915.6 738.9 1915.6 748.3 1885.4 973.9 1885.4 983.4 1747.4 992.8 1708.3 1105.6 1708.3 1115.0 1651.3 1171.4 1651.3 1180.8 1634.7 1237.2 1634.7 1246.6 1609.5 1359.5 1609.5 1368.9 1578.3 1378.3 1578.3 1387.7 1560.5 1434.7 1560.5 1444.1 1524.8 1519.3 1524.8 1528.7 1491.2 1566.4 1491.2 1575.8 1453.7 1632.2 1453.7 1641.6 1427.8 1679.2 1427.8 1688.6 1382.9 1782.6 1382.9 1792.0 1344.7 1886.1 1344.7 1895.5 1325.9 1989.5 1325.9 1998.9 1309.1 3700.9 1309.1" stroke="#3598c4"/>
<path d="M268.7 2118.5 541.4 2118.5 550.8 2095.3 832.9 2095.3 842.3 2090.4 870.5 2090.4 879.9 2076.0 889.3 2069.1 926.9 2069.1 936.3 2038.3 992.8 2038.3 1002.2 2020.9 1011.6 2019.5 1096.2 2019.5 1105.6 1987.9 1143.2 1987.9 1152.6 1973.5 1274.9 1973.5 1284.3 1955.1 1415.9 1955.1 1425.3 1903.2 1491.1 1903.2 1500.5 1901.9 1566.4 1901.9 1575.8 1859.3 1604.0 1859.3 1613.4 1835.8 1651.0 1835.8 1660.4 1823.5 1707.4 1823.5 1716.8 1818.6 1726.2 1811.4 1735.6 1811.4 1745.0 1807.1 1848.5 1807.1 1857.9 1776.4 1886.1 1776.4 1895.5 1770.3 1942.5 1770.3 1951.9 1749.9 2036.5 1749.9 2045.9 1732.2 2083.5 1732.2 2092.9 1727.9 2140.0 1727.9 2149.4 1711.7 2177.6 1711.7 2187.0 1710.9 2196.4 1690.3 3700.9 1690.3" stroke="#6dc5c8"/>
<path d="M268.7 2118.5 579.0 2118.5 588.4 2024.3 597.8 2016.7 644.8 2016.7 654.2 1984.1 710.7 1984.1 720.1 1955.3 776.5 1955.3 785.9 1801.4 804.7 1801.4 814.1 1753.7 861.1 1753.7 870.5 1646.0 1011.6 1646.0 1021.0 1504.4 1030.4 1504.4 1039.8 1440.2 1077.4 1440.2 1086.8 1429.0 1115.0 1429.0 1124.4 1378.1 1171.4 1378.1 1180.8 1287.1 1227.8 1287.1 1237.2 1146.8 1368.9 1146.8 1378.3 1039.0 1406.5 1039.0 1415.9 1020.2 1491.1 1020.2 1500.5 943.9 1547.5 943.9 1557.0 916.9 1622.8 916.9 1632.2 813.8 1698.0 813.8 1707.4 808.5 1763.8 808.5 1773.2 798.6 1782.6 720.2 1886.1 720.2 1895.5 709.7 3700.9 709.7" stroke="#085598"/>
<path d="M268.7 2118.5 353.3 2118.5 362.7 2097.6 616.6 2097.6 626.0 2060.0 738.9 2060.0 748.3 2044.8 767.1 2044.8 776.5 2029.1 814.1 2029.1 823.5 2021.0 898.7 2021.0 908.1 1932.4 955.1 1932.4 964.5 1891.2 1068.0 1891.2 1077.4 1841.4 1105.6 1841.4 1115.0 1817.7 1133.8 1817.7 1143.2 1797.3 1152.6 1797.3 1162.0 1734.6 1237.2 1734.6 1246.6 1666.0 1303.1 1666.0 1312.5 1631.3 1331.3 1631.3 1340.7 1596.3 1378.3 1596.3 1387.7 1582.1 1462.9 1582.1 1472.3 1554.8 1481.7 1554.8 1491.1 1530.2 1528.7 1530.2 1538.1 1520.5 1547.5 1504.1 1557.0 1496.9 1604.0 1496.9 1613.4 1448.8 1679.2 1448.8 1688.6 1414.2 1735.6 1414.2 1745.0 1383.4 1782.6 1383.4 1792.0 1376.2 1820.2 1376.2 1829.6 1330.9 1848.5 1330.9 1857.9 1325.7 1876.7 1325.7 1886.1 1324.2 1914.3 1324.2 1923.7 1317.9 1970.7 1317.9 1980.1 1257.3 2083.5 1257.3 2092.9 1217.0 2130.6 1217.0 2140.0 1202.2 3700.9 1202.2" stroke="#1f80b8"/>
<path d="M268.7 2118.5 663.6 2118.5 673.0 2104.8 738.9 2104.8 748.3 2087.0 776.5 2087.0 785.9 2052.9 795.3 2047.7 861.1 2047.7 870.5 1985.5 879.9 1956.5 936.3 1956.5 945.7 1912.9 973.9 1912.9 983.4 1866.5 1077.4 1866.5 1086.8 1816.5 1096.2 1816.5 1105.6 1748.0 1162.0 1748.0 1171.4 1677.5 1218.4 1677.5 1227.8 1668.4 1284.3 1668.4 1293.7 1614.3 1303.1 1614.3 1312.5 1563.3 1350.1 1563.3 1359.5 1498.3 1397.1 1498.3 1406.5 1436.9 1462.9 1436.9 1472.3 1369.1 1538.1 1369.1 1547.5 1341.5 1604.0 1341.5 1613.4 1283.9 1622.8 1224.7 1726.2 1224.7 1735.6 1214.9 1745.0 1198.9 1792.0 1198.9 1801.4 1175.2 1904.9 1175.2 1914.3 1091.6 1942.5 1091.6 1951.9 1066.5 1961.3 1022.3 2045.9 1022.3 2055.3 981.0 2074.1 981.0 2083.5 884.8 3700.9 884.8" stroke="#0a61a4"/>
<path d="M268.7 2118.5 390.9 2118.5 400.3 2104.5 522.6 2104.5 532.0 2091.2 663.6 2091.2 673.0 2043.8 851.7 2043.8 861.1 1950.4 879.9 1950.4 889.3 1943.7 992.8 1943.7 1002.2 1776.7 1124.4 1776.7 1133.8 1768.8 1171.4 1768.8 1180.8 1687.2 1227.8 1687.2 1237.2 1670.2 1246.6 1631.8 1368.9 1631.8 1378.3 1560.7 1406.5 1560.7 1415.9 1540.8 1500.5 1540.8 1509.9 1498.2 1594.6 1498.2 1604.0 1439.8 1622.8 1439.8 1632.2 1421.7 1782.6 1421.7 1792.0 1369.5 1801.4 1369.5 1810.8 1349.0 1867.3 1349.0 1876.7 1279.9 1933.1 1279.9 1942.5 1262.7 1989.5 1262.7 1998.9 1249.4 2045.9 1249.4 2055.3 1208.4 3700.9 1208.4" stroke="#2081b9"/>
<path d="M268.7 2118.5 447.4 2118.5 456.8 2099.3 607.2 2099.3 616.6 2090.1 626.0 2090.1 635.4 2076.8 729.5 2076.8 738.9 2043.0 776.5 2043.0 785.9 2035.0 804.7 2035.0 814.1 2034.0 851.7 2034.0 861.1 2002.8 936.3 2002.8 945.7 1933.3 973.9 1933.3 983.4 1883.5 1096.2 1883.5 1105.6 1822.3 1218.4 1822.3 1227.8 1798.0 1303.1 1798.0 1312.5 1770.6 1321.9 1770.6 1331.3 1741.2 1359.5 1741.2 1368.9 1714.9 1491.1 1714.9 1500.5 1674.3 1575.8 1674.3 1585.2 1658.8 1622.8 1658.8 1632.2 1605.1 1754.4 1605.1 1763.8 1562.9 1857.9 1562.9 1867.3 1502.4 1970.7 1502.4 1980.1 1468.6 2130.6 1468.6 2140.0 1429.4 2309.2 1429.4 2318.6 1424.3 3700.9 1424.3" stroke="#4fb1cd"/>
<path d="M268.7 2118.5 626.0 2118.5 635.4 2094.1 720.1 2094.1 729.5 2072.5 889.3 2072.5 898.7 2066.1 1030.4 2066.1 1039.8 2010.0 1049.2 2004.7 1133.8 2004.7 1143.2 1962.0 1199.6 1962.0 1209.0 1908.2 1481.7 1908.2 1491.1 1832.7 1500.5 1832.7 1509.9 1831.3 1538.1 1831.3 1547.5 1771.3 1669.8 1771.3 1679.2 1731.2 1698.0 1731.2 1707.4 1724.8 1763.8 1724.8 1773.2 1694.7 1810.8 1694.7 1820.2 1671.4 1857.9 1671.4 1867.3 1659.1 1904.9 1659.1 1914.3 1656.6 1942.5 1656.6 1951.9 1651.1 2027.1 1651.1 2036.5 1590.2 3700.9 1590.2" stroke="#67c1cb"/>
<path d="M268.7 2118.5 419.2 2118.5 428.6 2091.5 861.1 2091.5 870.5 2087.4 889.3 2087.4 898.7 2059.2 1011.6 2059.2 1021.0 2044.4 1030.4 2044.4 1039.8 2029.2 1049.2 2023.1 1068.0 2023.1 1077.4 2019.2 1171.4 2019.2 1180.8 1958.8 1190.2 1951.0 1218.4 1951.0 1227.8 1948.7 1256.0 1948.7 1265.4 1928.7 1303.1 1928.7 1312.5 1913.4 1350.1 1913.4 1359.5 1879.1 1406.5 1879.1 1415.9 1876.9 1434.7 1876.9 1444.1 1872.0 1453.5 1869.4 1472.3 1869.4 1481.7 1855.2 1509.9 1855.2 1519.3 1830.6 1557.0 1830.6 1566.4 1825.6 1641.6 1825.6 1651.0 1780.4 1716.8 1780.4 1726.2 1768.4 1792.0 1768.4 1801.4 1726.8 1848.5 1726.8 1857.9 1708.9 1886.1 1708.9 1895.5 1705.8 1951.9 1705.8 1961.3 1665.0 2036.5 1665.0 2045.9 1641.6 2055.3 1641.6 2064.7 1604.1 3700.9 1604.1" stroke="#69c2ca"/>
<path d="M268.7 2118.5 532.0 2118.5 541.4 2113.1 597.8 2113.1 607.2 2107.8 673.0 2107.8 682.4 2098.7 861.1 2098.7 870.5 2058.5 917.5 2058.5 926.9 2042.2 955.1 2042.2 964.5 2006.1 1021.0 2006.1 1030.4 1998.4 1039.8 1998.4 1049.2 1973.2 1068.0 1973.2 1077.4 1956.5 1096.2 1956.5 1105.6 1938.5 1115.0 1938.5 1124.4 1936.9 1143.2 1936.9 1152.6 1900.1 1293.7 1900.1 1303.1 1872.5 1406.5 1872.5 1415.9 1815.0 1453.5 1815.0 1462.9 1804.4 1585.2 1804.4 1594.6 1749.8 1641.6 1749.8 1651.0 1748.3 1726.2 1748.3 1735.6 1714.3 1782.6 1714.3 1792.0 1667.0 1839.1 1667.0 1848.5 1534.7 3700.9 1534.7" stroke="#5fbccd"/>
<path d="M268.7 2118.5 616.6 2118.5 626.0 2029.1 691.8 2029.1 701.3 1967.5 767.1 1967.5 776.5 1937.6 842.3 1937.6 851.7 1847.1 1039.8 1847.1 1049.2 1777.6 1058.6 1777.6 1068.0 1775.1 1086.8 1775.1 1096.2 1734.8 1162.0 1734.8 1171.4 1668.8 1293.7 1668.8 1303.1 1652.0 1312.5 1609.9 1444.1 1609.9 1453.5 1530.4 1547.5 1530.4 1557.0 1489.4 1585.2 1489.4 1594.6 1443.4 1651.0 1443.4 1660.4 1414.9 1726.2 1414.9 1735.6 1359.1 1773.2 1359.1 1782.6 1351.0 1857.9 1351.0 1867.3 1278.2 2008.3 1278.2 2017.7 1275.3 3700.9 1275.3" stroke="#2e90c0"/>
<path d="M268.7 2118.5 579.0 2118.5 588.4 2091.9 720.1 2091.9 729.5 2048.9 804.7 2048.9 814.1 2038.8 823.5 2037.6 832.9 2027.4 842.3 2027.4 851.7 1997.7 889.3 1997.7 898.7 1967.6 926.9 1967.6 936.3 1914.8 1030.4 1914.8 1039.8 1757.8 1058.6 1757.8 1068.0 1738.8 1096.2 1738.8 1105.6 1681.5 1133.8 1681.5 1143.2 1652.4 1199.6 1652.4 1209.0 1609.7 1227.8 1609.7 1237.2 1552.5 1274.9 1552.5 1284.3 1469.6 1397.1 1469.6 1406.5 1447.5 1500.5 1447.5 1509.9 1362.2 1679.2 1362.2 1688.6 1233.9 1716.8 1233.9 1726.2 1168.8 1754.4 1168.8 1763.8 1124.4 1792.0 1124.4 1801.4 1106.1 1810.8 1052.2 1886.1 1052.2 1895.5 985.0 1998.9 985.0 2008.3 957.9 2017.7 957.9 2027.1 860.6 3700.9 860.6" stroke="#085fa3"/>
<path d="M268.7 2118.5 409.7 2118.5 419.2 2079.0 616.6 2079.0 626.0 2050.5 757.7 2050.5 767.1 2034.2 861.1 2034.2 870.5 1968.7 889.3 1968.7 898.7 1933.8 945.7 1933.8 955.1 1899.3 983.4 1899.3 992.8 1876.9 1011.6 1876.9 1021.0 1852.3 1077.4 1852.3 1086.8 1844.4 1096.2 1844.4 1105.6 1798.6 1124.4 1798.6 1133.8 1776.4 1180.8 1776.4 1190.2 1746.6 1359.5 1746.6 1368.9 1689.4 1462.9 1689.4 1472.3 1607.6 1566.4 1607.6 1575.8 1563.6 1585.2 1563.6 1594.6 1559.5 1679.2 1559.5 1688.6 1550.6 1745.0 1550.6 1754.4 1468.1 1867.3 1468.1 1876.7 1410.9 2017.7 1410.9 2027.1 1345.8 2092.9 1345.8 2102.3 1335.4 3700.9 1335.4" stroke="#3b9ec7"/>
<path d="M268.7 2118.5 654.2 2118.5 663.6 1982.9 673.0 1982.9 682.4 1981.7 691.8 1971.2 710.7 1971.2 720.1 1949.4 738.9 1949.4 748.3 1901.0 785.9 1901.0 795.3 1877.1 870.5 1877.1 879.9 1828.8 936.3 1828.8 945.7 1714.4 992.8 1714.4 1002.2 1708.2 1058.6 1708.2 1068.0 1651.7 1105.6 1651.7 1115.0 1597.6 1124.4 1597.6 1133.8 1592.3 1246.6 1592.3 1256.0 1472.6 1312.5 1472.6 1321.9 1460.6 1340.7 1460.6 1350.1 1451.7 1378.3 1451.7 1387.7 1393.8 1425.3 1393.8 1434.7 1354.0 1472.3 1354.0 1481.7 1336.7 1491.1 1303.9 1566.4 1303.9 1575.8 1237.6 1632.2 1237.6 1641.6 1206.9 1716.8 1206.9 1726.2 1115.8 1810.8 1115.8 1820.2 1066.3 1951.9 1066.3 1961.3 1025.8 2055.3 1025.8 2064.7 1022.5 2102.3 1022.5 2111.7 1002.5 3700.9 1002.5" stroke="#116cab"/>
<path d="M268.7 2118.5 456.8 2118.5 466.2 2107.0 748.3 2107.0 757.7 2093.6 795.3 2093.6 804.7 2031.7 879.9 2031.7 889.3 1957.3 917.5 1957.3 926.9 1912.2 955.1 1912.2 964.5 1842.0 1011.6 1842.0 1021.0 1790.4 1105.6 1790.4 1115.0 1745.4 1133.8 1745.4 1143.2 1706.9 1152.6 1700.8 1171.4 1700.8 1180.8 1592.1 1303.1 1592.1 1312.5 1558.7 1397.1 1558.7 1406.5 1539.9 1425.3 1539.9 1434.7 1471.7 1481.7 1471.7 1491.1 1463.9 1538.1 1463.9 1547.5 1374.9 1651.0 1374.9 1660.4 1332.2 1669.8 1298.0 1735.6 1298.0 1745.0 1287.9 1782.6 1287.9 1792.0 1261.7 1867.3 1261.7 1876.7 1229.9 1970.7 1229.9 1980.1 1168.4 1989.5 1146.6 2045.9 1146.6 2055.3 1118.3 2064.7 1112.3 2083.5 1112.3 2092.9 1046.5 3700.9 1046.5" stroke="#1470ae"/>
<path d="M268.7 2118.5 390.9 2118.5 400.3 2039.9 579.0 2039.9 588.4 1980.6 682.4 1980.6 691.8 1967.2 710.7 1967.2 720.1 1898.7 738.9 1898.7 748.3 1849.2 823.5 1849.2 832.9 1833.0 926.9 1833.0 936.3 1674.6 983.4 1674.6 992.8 1666.9 1133.8 1666.9 1143.2 1531.0 1162.0 1531.0 1171.4 1460.1 1256.0 1460.1 1265.4 1435.0 1274.9 1435.0 1284.3 1407.7 1368.9 1407.7 1378.3 1367.5 1387.7 1333.8 1397.1 1333.8 1406.5 1296.7 1462.9 1296.7 1472.3 1282.4 1528.7 1282.4 1538.1 1246.2 1547.5 1246.2 1557.0 1160.2 1594.6 1160.2 1604.0 1102.6 1716.8 1102.6 1726.2 1052.6 1820.2 1052.6 1829.6 1018.2 1895.5 1018.2 1904.9 1002.8 1923.7 1002.8 1933.1 995.9 2008.3 995.9 2017.7 985.2 3700.9 985.2" stroke="#106aaa"/>
<path d="M268.7 2118.5 456.8 2118.5 466.2 2073.7 701.3 2073.7 710.7 1972.3 842.3 1972.3 851.7 1916.2 898.7 1916.2 908.1 1906.8 926.9 1906.8 936.3 1840.5 1021.0 1840.5 1030.4 1683.2 1096.2 1683.2 1105.6 1579.4 1162.0 1579.4 1171.4 1510.0 1256.0 1510.0 1265.4 1406.1 1340.7 1406.1 1350.1 1366.5 1425.3 1366.5 1434.7 1319.4 1444.1 1319.4 1453.5 1252.3 1509.9 1252.3 1519.3 1222.3 1557.0 1222.3 1566.4 1199.5 1669.8 1199.5 1679.2 1140.6 1698.0 1140.6 1707.4 1068.2 1867.3 1068.2 1876.7 1009.0 1886.1 1007.5 1895.5 1007.5 1904.9 959.1 1961.3 959.1 1970.7 914.9 1998.9 914.9 2008.3 864.6 2064.7 864.6 2074.1 857.2 2083.5 857.2 2092.9 793.7 3700.9 793.7" stroke="#085b9e"/>
<path d="M268.7 2118.5 626.0 2118.5 635.4 2016.9 757.7 2016.9 767.1 1961.5 785.9 1961.5 795.3 1947.2 804.7 1892.5 898.7 1892.5 908.1 1851.5 973.9 1851.5 983.4 1801.1 992.8 1791.2 1030.4 1791.2 1039.8 1761.6 1049.2 1714.5 1143.2 1714.5 1152.6 1690.8 1218.4 1690.8 1227.8 1668.3 1256.0 1668.3 1265.4 1614.8 1350.1 1614.8 1359.5 1577.9 1415.9 1577.9 1425.3 1574.9 1453.5 1574.9 1462.9 1526.8 1594.6 1526.8 1604.0 1455.9 1613.4 1384.7 1773.2 1384.7 1782.6 1346.0 1904.9 1346.0 1914.3 1333.5 1970.7 1333.5 1980.1 1324.5 1998.9 1324.5 2008.3 1301.3 3700.9 1301.3" stroke="#3396c3"/>
<path d="M268.7 2118.5 691.8 2118.5 701.3 1976.6 804.7 1976.6 814.1 1828.7 917.5 1828.7 926.9 1740.9 973.9 1740.9 983.4 1681.5 992.8 1675.9 1030.4 1675.9 1039.8 1562.2 1115.0 1562.2 1124.4 1444.3 1218.4 1444.3 1227.8 1369.2 1284.3 1369.2 1293.7 1328.0 1481.7 1328.0 1491.1 1168.4 1566.4 1168.4 1575.8 1121.8 1622.8 1121.8 1632.2 1042.8 1679.2 1042.8 1688.6 1033.3 1773.2 1033.3 1782.6 899.2 1820.2 899.2 1829.6 870.4 1848.5 870.4 1857.9 849.4 1970.7 849.4 1980.1 771.0 3700.9 771.0" stroke="#08599c"/>
<path d="M268.7 2118.5 456.8 2118.5 466.2 2112.4 475.6 2092.1 635.4 2092.1 644.8 2044.0 738.9 2044.0 748.3 2023.4 851.7 2023.4 861.1 1971.1 889.3 1971.1 898.7 1940.3 908.1 1940.3 917.5 1927.2 945.7 1927.2 955.1 1874.2 1030.4 1874.2 1039.8 1813.0 1265.4 1813.0 1274.9 1621.1 1397.1 1621.1 1406.5 1579.4 1425.3 1579.4 1434.7 1550.4 1547.5 1550.4 1557.0 1449.7 1622.8 1449.7 1632.2 1385.6 1726.2 1385.6 1735.6 1334.9 1801.4 1334.9 1810.8 1312.9 1867.3 1312.9 1876.7 1259.9 1961.3 1259.9 1970.7 1204.6 1998.9 1204.6 2008.3 1106.0 3700.9 1106.0" stroke="#1776b2"/>
<path d="M268.7 2118.5 513.2 2118.5 522.6 2099.1 597.8 2099.1 607.2 2093.2 635.4 2093.2 644.8 2056.6 767.1 2056.6 776.5 1979.0 823.5 1979.0 832.9 1935.9 917.5 1935.9 926.9 1878.4 964.5 1878.4 973.9 1873.4 1049.2 1873.4 1058.6 1785.6 1162.0 1785.6 1171.4 1723.0 1199.6 1723.0 1209.0 1719.5 1274.9 1719.5 1284.3 1683.5 1293.7 1673.8 1303.1 1671.0 1378.3 1671.0 1387.7 1625.6 1472.3 1625.6 1481.7 1582.1 1491.1 1582.1 1500.5 1576.2 1509.9 1572.0 1669.8 1572.0 1679.2 1490.8 1688.6 1461.6 1801.4 1461.6 1810.8 1358.6 3700.9 1358.6" stroke="#41a3c9"/>
<path d="M268.7 2118.5 757.7 2118.5 767.1 2061.7 804.7 2061.7 814.1 1990.4 908.1 1990.4 917.5 1932.2 955.1 1932.2 964.5 1859.1 1049.2 1859.1 1058.6 1854.0 1171.4 1854.0 1180.8 1789.0 1190.2 1759.7 1199.6 1705.5 1274.9 1705.5 1284.3 1682.6 1331.3 1682.6 1340.7 1638.7 1387.7 1638.7 1397.1 1638.1 1453.5 1638.1 1462.9 1601.8 1509.9 1601.8 1519.3 1550.5 1547.5 1550.5 1557.0 1541.6 1604.0 1541.6 1613.4 1505.6 1622.8 1505.6 1632.2 1491.4 1641.6 1491.4 1651.0 1464.6 1679.2 1464.6 1688.6 1422.8 1698.0 1422.8 1707.4 1409.7 1726.2 1409.7 1735.6 1389.1 1848.5 1389.1 1857.9 1361.3 1876.7 1361.3 1886.1 1305.6 1961.3 1305.6 1970.7 1290.7 1998.9 1290.7 2008.3 1261.1 2243.4 1261.1 2252.8 1232.8 3700.9 1232.8" stroke="#2587bb"/>
<path d="M268.7 2118.5 588.4 2118.5 597.8 2094.9 776.5 2094.9 785.9 2088.8 945.7 2088.8 955.1 1954.7 1096.2 1954.7 1105.6 1841.5 1143.2 1841.5 1152.6 1828.2 1180.8 1828.2 1190.2 1760.2 1256.0 1760.2 1265.4 1688.4 1321.9 1688.4 1331.3 1638.8 1368.9 1638.8 1378.3 1613.8 1415.9 1613.8 1425.3 1578.1 1462.9 1578.1 1472.3 1511.3 1509.9 1511.3 1519.3 1496.3 1538.1 1496.3 1547.5 1483.3 1575.8 1483.3 1585.2 1463.3 1613.4 1463.3 1622.8 1430.1 1651.0 1430.1 1660.4 1415.2 1669.8 1415.2 1679.2 1412.9 1698.0 1412.9 1707.4 1370.6 1716.8 1370.6 1726.2 1369.5 1745.0 1369.5 1754.4 1325.3 1839.1 1325.3 1848.5 1025.5 3700.9 1025.5" stroke="#126ead"/>
<path d="M268.7 2118.5 569.6 2118.5 579.0 2089.9 795.3 2089.9 804.7 2034.7 879.9 2034.7 889.3 1965.2 917.5 1965.2 926.9 1939.0 973.9 1939.0 983.4 1900.6 1058.6 1900.6 1068.0 1865.3 1105.6 1865.3 1115.0 1814.3 1227.8 1814.3 1237.2 1774.8 1284.3 1774.8 1293.7 1733.2 1359.5 1733.2 1368.9 1666.4 1434.7 1666.4 1444.1 1647.1 1453.5 1640.7 1462.9 1617.7 1519.3 1617.7 1528.7 1582.3 1557.0 1582.3 1566.4 1566.9 1641.6 1566.9 1651.0 1521.0 1707.4 1521.0 1716.8 1507.0 1745.0 1507.0 1754.4 1502.7 1792.0 1502.7 1801.4 1455.2 1839.1 1455.2 1848.5 1401.4 1895.5 1401.4 1904.9 1321.0 3700.9 1321.0" stroke="#389bc6"/>
<path d="M268.7 2118.5 654.2 2118.5 663.6 2071.0 898.7 2071.0 908.1 2029.5 917.5 2029.5 926.9 2015.5 955.1 2015.5 964.5 1959.4 1011.6 1959.4 1021.0 1818.4 1068.0 1818.4 1077.4 1783.2 1133.8 1783.2 1143.2 1771.8 1190.2 1771.8 1199.6 1642.9 1265.4 1642.9 1274.9 1592.3 1387.7 1592.3 1397.1 1464.6 1462.9 1464.6 1472.3 1391.8 1481.7 1391.8 1491.1 1320.8 1519.3 1320.8 1528.7 1286.5 1557.0 1286.5 1566.4 1255.9 1632.2 1255.9 1641.6 1222.1 1698.0 1222.1 1707.4 1197.1 1726.2 1197.1 1735.6 1046.4 1867.3 1046.4 1876.7 1019.2 1886.1 1019.2 1895.5 1007.1 1923.7 1007.1 1933.1 721.2 3700.9 721.2" stroke="#085599"/>
<path d="M268.7 2118.5 522.6 2118.5 532.0 2116.4 663.6 2116.4 673.0 2006.1 1021.0 2006.1 1030.4 1974.6 1096.2 1974.6 1105.6 1941.5 1152.6 1941.5 1162.0 1881.0 1218.4 1881.0 1227.8 1870.7 1274.9 1870.7 1284.3 1868.3 1350.1 1868.3 1359.5 1822.2 1406.5 1822.2 1415.9 1765.9 1519.3 1765.9 1528.7 1737.1 1604.0 1737.1 1613.4 1659.0 1792.0 1659.0 1801.4 1650.6 1820.2 1650.6 1829.6 1448.5 3700.9 1448.5" stroke="#52b4cf"/>
<path d="M268.7 2118.5 522.6 2118.5 532.0 2090.2 597.8 2090.2 607.2 2027.8 776.5 2027.8 785.9 1849.4 851.7 1849.4 861.1 1764.4 898.7 1764.4 908.1 1730.4 917.5 1730.4 926.9 1695.6 973.9 1695.6 983.4 1684.9 992.8 1684.9 1002.2 1665.7 1011.6 1603.1 1030.4 1603.1 1039.8 1578.1 1171.4 1578.1 1180.8 1444.6 1274.9 1444.6 1284.3 1360.3 1406.5 1360.3 1415.9 1221.6 1622.8 1221.6 1632.2 1074.3 1707.4 1074.3 1716.8 1005.8 2027.1 1005.8 2036.5 895.5 2045.9 872.4 3700.9 872.4" stroke="#0960a4"/>
<path d="M268.7 2118.5 485.0 2118.5 494.4 2104.5 607.2 2104.5 616.6 2097.6 663.6 2097.6 673.0 2041.4 682.4 2020.5 898.7 2020.5 908.1 1852.7 917.5 1813.6 955.1 1813.6 964.5 1802.6 1021.0 1802.6 1030.4 1759.3 1096.2 1759.3 1105.6 1720.2 1124.4 1720.2 1133.8 1653.5 1218.4 1653.5 1227.8 1599.9 1265.4 1599.9 1274.9 1573.1 1359.5 1573.1 1368.9 1514.9 1500.5 1514.9 1509.9 1420.8 1622.8 1420.8 1632.2 1385.0 1745.0 1385.0 1754.4 1329.4 1792.0 1329.4 1801.4 1287.0 1886.1 1287.0 1895.5 1274.2 2055.3 1274.2 2064.7 1211.9 2074.1 1201.4 2224.6 1201.4 2234.0 1194.7 3700.9 1194.7" stroke="#1d7eb7"/>
<path d="M268.7 2118.5 682.4 2118.5 691.8 2015.6 1171.4 2015.6 1180.8 1987.4 1190.2 1953.9 1246.6 1953.9 1256.0 1922.8 1312.5 1922.8 1321.9 1903.8 1378.3 1903.8 1387.7 1865.5 1415.9 1865.5 1425.3 1839.2 1462.9 1839.2 1472.3 1826.9 1481.7 1826.9 1491.1 1778.9 1557.0 1778.9 1566.4 1750.6 1604.0 1750.6 1613.4 1740.4 1632.2 1740.4 1641.6 1709.8 1688.6 1709.8 1698.0 1677.0 1782.6 1677.0 1792.0 1671.9 1801.4 1660.5 1810.8 1660.5 1820.2 1634.9 1867.3 1634.9 1876.7 1578.4 2017.7 1578.4 2027.1 1522.7 2158.8 1522.7 2168.2 1517.2 2177.6 1499.9 2187.0 1499.9 2196.4 1478.9 2234.0 1478.9 2243.4 1451.6 3700.9 1451.6" stroke="#53b4cf"/>
<path d="M268.7 2118.5 673.0 2118.5 682.4 2109.4 738.9 2109.4 748.3 2050.3 795.3 2050.3 804.7 2023.8 870.5 2023.8 879.9 2007.3 1096.2 2007.3 1105.6 1869.1 1115.0 1822.7 1133.8 1822.7 1143.2 1794.9 1190.2 1794.9 1199.6 1779.6 1312.5 1779.6 1321.9 1685.8 1406.5 1685.8 1415.9 1639.4 1444.1 1639.4 1453.5 1576.0 1472.3 1576.0 1481.7 1565.8 1491.1 1565.8 1500.5 1548.3 1566.4 1548.3 1575.8 1527.9 1688.6 1527.9 1698.0 1441.4 1773.2 1441.4 1782.6 1401.6 1867.3 1401.6 1876.7 1383.0 1886.1 1383.0 1895.5 1243.7 3700.9 1243.7" stroke="#2789bd"/>
<path d="M268.7 2118.5 616.6 2118.5 626.0 2087.8 720.1 2087.8 729.5 2051.0 804.7 2051.0 814.1 2026.2 861.1 2026.2 870.5 1965.4 917.5 1965.4 926.9 1924.5 1049.2 1924.5 1058.6 1865.6 1105.6 1865.6 1115.0 1795.1 1387.7 1795.1 1397.1 1650.0 1434.7 1650.0 1444.1 1647.2 1453.5 1612.9 1575.8 1612.9 1585.2 1568.0 1745.0 1568.0 1754.4 1495.7 1801.4 1495.7 1810.8 1484.7 1876.7 1484.7 1886.1 1460.5 2074.1 1460.5 2083.5 1368.8 3700.9 1368.8" stroke="#43a5ca"/>
<path d="M268.7 2118.5 447.4 2118.5 456.8 2113.4 466.2 2113.4 475.6 2104.1 550.8 2104.1 560.2 2092.4 654.2 2092.4 663.6 2067.1 691.8 2067.1 701.3 2045.4 785.9 2045.4 795.3 1998.0 842.3 1998.0 851.7 1986.3 879.9 1986.3 889.3 1967.1 936.3 1967.1 945.7 1938.5 992.8 1938.5 1002.2 1926.9 1011.6 1926.9 1021.0 1912.3 1068.0 1912.3 1077.4 1891.8 1171.4 1891.8 1180.8 1866.3 1293.7 1866.3 1303.1 1811.1 1331.3 1811.1 1340.7 1798.3 1350.1 1798.3 1359.5 1777.2 1415.9 1777.2 1425.3 1762.2 1472.3 1762.2 1481.7 1728.1 1538.1 1728.1 1547.5 1699.3 1632.2 1699.3 1641.6 1659.7 1735.6 1659.7 1745.0 1606.3 1876.7 1606.3 1886.1 1595.0 1895.5 1578.7 1942.5 1578.7 1951.9 1554.0 3700.9 1554.0" stroke="#61becc"/>
<path d="M268.7 2118.5 767.1 2118.5 776.5 2084.9 804.7 2084.9 814.1 2036.4 879.9 2036.4 889.3 2021.1 1086.8 2021.1 1096.2 1951.9 1162.0 1951.9 1171.4 1928.1 1218.4 1928.1 1227.8 1910.9 1246.6 1910.9 1256.0 1892.1 1312.5 1892.1 1321.9 1879.4 1331.3 1850.5 1415.9 1850.5 1425.3 1814.7 1491.1 1814.7 1500.5 1795.2 1538.1 1795.2 1547.5 1772.0 1575.8 1772.0 1585.2 1757.2 1632.2 1757.2 1641.6 1743.3 1698.0 1743.3 1707.4 1737.5 1716.8 1737.5 1726.2 1724.9 1810.8 1724.9 1820.2 1706.1 1829.6 1693.6 1857.9 1693.6 1867.3 1678.0 1876.7 1646.1 2064.7 1646.1 2074.1 1626.8 2083.5 1610.9 2177.6 1610.9 2187.0 1580.9 3700.9 1580.9" stroke="#65c0cb"/>
<path d="M268.7 2118.5 456.8 2118.5 466.2 2099.7 673.0 2099.7 682.4 2088.9 729.5 2088.9 738.9 2076.7 757.7 2076.7 767.1 2075.9 814.1 2075.9 823.5 2045.6 851.7 2045.6 861.1 2018.1 889.3 2018.1 898.7 1990.1 983.4 1990.1 992.8 1966.8 1002.2 1960.7 1030.4 1960.7 1039.8 1919.3 1133.8 1919.3 1143.2 1905.2 1162.0 1905.2 1171.4 1899.3 1180.8 1867.2 1256.0 1867.2 1265.4 1861.3 1274.9 1861.3 1284.3 1851.5 1293.7 1851.5 1303.1 1829.0 1368.9 1829.0 1378.3 1821.2 1397.1 1821.2 1406.5 1808.5 1434.7 1808.5 1444.1 1804.3 1472.3 1804.3 1481.7 1783.8 1594.6 1783.8 1604.0 1739.8 1792.0 1739.8 1801.4 1683.9 1886.1 1683.9 1895.5 1640.3 1951.9 1640.3 1961.3 1585.8 3700.9 1585.8" stroke="#66c1cb"/>
<path d="M268.7 2118.5 390.9 2118.5 400.3 2113.2 419.2 2113.2 428.6 2097.2 569.6 2097.2 579.0 2071.8 691.8 2071.8 701.3 2034.0 898.7 2034.0 908.1 1920.3 1002.2 1920.3 1011.6 1848.0 1021.0 1848.0 1030.4 1828.5 1086.8 1828.5 1096.2 1802.4 1143.2 1802.4 1152.6 1758.3 1199.6 1758.3 1209.0 1736.6 1218.4 1736.6 1227.8 1705.0 1321.9 1705.0 1331.3 1687.2 1340.7 1682.2 1359.5 1682.2 1368.9 1664.7 1481.7 1664.7 1491.1 1586.5 1641.6 1586.5 1651.0 1548.9 1707.4 1548.9 1716.8 1491.4 1792.0 1491.4 1801.4 1461.9 1810.8 1402.9 3700.9 1402.9" stroke="#4badcc"/>
<path d="M268.7 2118.5 550.8 2118.5 560.2 2106.5 569.6 2086.8 691.8 2086.8 701.3 2047.6 757.7 2047.6 767.1 2040.8 785.9 2040.8 795.3 2031.4 851.7 2031.4 861.1 1980.5 926.9 1980.5 936.3 1896.6 945.7 1896.6 955.1 1855.0 1011.6 1855.0 1021.0 1797.4 1049.2 1797.4 1058.6 1750.2 1218.4 1750.2 1227.8 1629.3 1265.4 1629.3 1274.9 1603.0 1321.9 1603.0 1331.3 1558.9 1406.5 1558.9 1415.9 1488.0 1472.3 1488.0 1481.7 1453.0 1594.6 1453.0 1604.0 1405.4 1632.2 1405.4 1641.6 1334.5 1726.2 1334.5 1735.6 1328.2 1754.4 1328.2 1763.8 1322.1 1820.2 1322.1 1829.6 1306.7 1848.5 1306.7 1857.9 1263.3 1886.1 1263.3 1895.5 1227.8 1923.7 1227.8 1933.1 1207.9 2008.3 1207.9 2017.7 1159.2 2045.9 1159.2 2055.3 1133.0 2111.7 1133.0 2121.2 1073.5 3700.9 1073.5" stroke="#1573b0"/>
<path d="M268.7 2118.5 513.2 2118.5 522.6 2090.4 616.6 2090.4 626.0 2066.3 785.9 2066.3 795.3 2021.1 861.1 2021.1 870.5 1918.6 917.5 1918.6 926.9 1918.0 936.3 1918.0 945.7 1904.3 955.1 1904.3 964.5 1825.3 1039.8 1825.3 1049.2 1763.2 1058.6 1739.8 1068.0 1739.8 1077.4 1717.4 1171.4 1717.4 1180.8 1649.8 1209.0 1649.8 1218.4 1544.2 1303.1 1544.2 1312.5 1508.9 1368.9 1508.9 1378.3 1423.9 1434.7 1423.9 1444.1 1293.7 1594.6 1293.7 1604.0 1222.3 1735.6 1222.3 1745.0 1146.3 1773.2 1146.3 1782.6 1129.9 1801.4 1129.9 1810.8 1104.4 1923.7 1104.4 1933.1 970.9 1970.7 970.9 1980.1 930.3 2027.1 930.3 2036.5 890.2 2111.7 890.2 2121.2 870.1 2130.6 846.3 2158.8 846.3 2168.2 832.4 2215.2 832.4 2224.6 824.4 3700.9 824.4" stroke="#085da1"/>
<path d="M268.7 2118.5 616.6 2118.5 626.0 2089.7 767.1 2089.7 776.5 2077.9 795.3 2077.9 804.7 2036.7 832.9 2036.7 842.3 1997.8 861.1 1997.8 870.5 1994.9 879.9 1994.9 889.3 1980.1 945.7 1980.1 955.1 1930.4 973.9 1930.4 983.4 1897.5 1086.8 1897.5 1096.2 1845.3 1180.8 1845.3 1190.2 1829.8 1237.2 1829.8 1246.6 1798.9 1256.0 1798.9 1265.4 1787.9 1274.9 1787.9 1284.3 1754.1 1387.7 1754.1 1397.1 1746.9 1406.5 1730.8 1415.9 1714.6 1462.9 1714.6 1472.3 1698.3 1481.7 1667.1 1528.7 1667.1 1538.1 1651.8 1594.6 1651.8 1604.0 1614.7 1632.2 1614.7 1641.6 1601.6 1679.2 1601.6 1688.6 1588.2 1707.4 1588.2 1716.8 1574.3 1773.2 1574.3 1782.6 1553.9 1792.0 1550.6 1801.4 1550.6 1810.8 1520.7 1876.7 1520.7 1886.1 1461.5 3700.9 1461.5" stroke="#54b5cf"/>
<path d="M268.7 2118.5 381.5 2118.5 390.9 2059.7 757.7 2059.7 767.1 1975.8 870.5 1975.8 879.9 1883.1 964.5 1883.1 973.9 1868.6 1002.2 1868.6 1011.6 1798.4 1115.0 1798.4 1124.4 1782.2 1340.7 1782.2 1350.1 1621.9 1378.3 1621.9 1387.7 1614.1 1444.1 1614.1 1453.5 1520.2 1481.7 1520.2 1491.1 1504.0 1500.5 1501.2 1575.8 1501.2 1585.2 1495.0 1594.6 1495.0 1604.0 1451.7 1735.6 1451.7 1745.0 1354.9 1839.1 1354.9 1848.5 1338.4 1857.9 1338.4 1867.3 1324.2 1895.5 1324.2 1904.9 1314.6 1914.3 1314.6 1923.7 1264.5 2205.8 1264.5 2215.2 1264.3 2234.0 1264.3 2243.4 1251.7 3700.9 1251.7" stroke="#298bbe"/>
<path d="M268.7 2118.5 588.4 2118.5 597.8 2073.3 748.3 2073.3 757.7 2061.4 776.5 2061.4 785.9 2051.1 795.3 2001.1 889.3 2001.1 898.7 1971.4 945.7 1971.4 955.1 1878.7 1105.6 1878.7 1115.0 1822.2 1133.8 1822.2 1143.2 1766.0 1152.6 1766.0 1162.0 1762.0 1256.0 1762.0 1265.4 1717.6 1274.9 1672.2 1312.5 1672.2 1321.9 1616.3 1406.5 1616.3 1415.9 1584.1 1462.9 1584.1 1472.3 1517.0 1585.2 1517.0 1594.6 1491.5 1604.0 1472.3 1651.0 1472.3 1660.4 1425.6 1726.2 1425.6 1735.6 1379.6 1792.0 1379.6 1801.4 1352.7 1857.9 1352.7 1867.3 1325.5 2102.3 1325.5 2111.7 1262.9 2140.0 1262.9 2149.4 1225.1 2158.8 1225.1 2168.2 1224.2 3700.9 1224.2" stroke="#2385ba"/>
<path d="M268.7 2118.5 701.3 2118.5 710.7 2005.0 832.9 2005.0 842.3 1936.4 879.9 1936.4 889.3 1903.3 1021.0 1903.3 1030.4 1771.2 1077.4 1771.2 1086.8 1747.3 1171.4 1747.3 1180.8 1744.0 1209.0 1744.0 1218.4 1696.3 1256.0 1696.3 1265.4 1657.2 1378.3 1657.2 1387.7 1611.4 1434.7 1611.4 1444.1 1546.2 1500.5 1546.2 1509.9 1519.8 1594.6 1519.8 1604.0 1388.3 1848.5 1388.3 1857.9 1257.1 2008.3 1257.1 2017.7 1191.9 2027.1 1144.1 2111.7 1144.1 2121.2 1085.6 3700.9 1085.6" stroke="#1674b0"/>
<path d="M268.7 2118.5 381.5 2118.5 390.9 2113.2 579.0 2113.2 588.4 2102.7 626.0 2102.7 635.4 2066.1 729.5 2066.1 738.9 2034.4 842.3 2034.4 851.7 1967.6 898.7 1967.6 908.1 1930.7 1086.8 1930.7 1096.2 1895.1 1105.6 1887.4 1152.6 1887.4 1162.0 1853.3 1171.4 1845.8 1180.8 1844.4 1209.0 1844.4 1218.4 1835.7 1274.9 1835.7 1284.3 1790.9 1406.5 1790.9 1415.9 1748.6 1519.3 1748.6 1528.7 1707.1 1585.2 1707.1 1594.6 1665.4 1754.4 1665.4 1763.8 1637.8 1782.6 1637.8 1792.0 1616.7 1848.5 1616.7 1857.9 1570.2 1933.1 1570.2 1942.5 1558.4 1951.9 1558.4 1961.3 1551.8 2055.3 1551.8 2064.7 1512.7 3700.9 1512.7" stroke="#5bbacf"/>
<path d="M268.7 2118.5 550.8 2118.5 560.2 2105.4 616.6 2105.4 626.0 2087.3 757.7 2087.3 767.1 2076.6 776.5 2027.8 823.5 2027.8 832.9 2003.5 861.1 2003.5 870.5 2002.6 908.1 2002.6 917.5 1936.2 1030.4 1936.2 1039.8 1899.8 1096.2 1899.8 1105.6 1857.3 1237.2 1857.3 1246.6 1821.0 1256.0 1821.0 1265.4 1750.9 1406.5 1750.9 1415.9 1699.4 1519.3 1699.4 1528.7 1640.9 1632.2 1640.9 1641.6 1561.2 1679.2 1561.2 1688.6 1539.1 1801.4 1539.1 1810.8 1496.7 1829.6 1496.7 1839.1 1487.4 1876.7 1487.4 1886.1 1462.2 1895.5 1434.9 1980.1 1434.9 1989.5 1392.6 1998.9 1354.0 3700.9 1354.0" stroke="#3fa2c8"/>
<path d="M268.7 2118.5 626.0 2118.5 635.4 2091.6 673.0 2091.6 682.4 2079.3 776.5 2079.3 785.9 2064.9 851.7 2064.9 861.1 1976.1 908.1 1976.1 917.5 1962.3 936.3 1962.3 945.7 1932.4 1049.2 1932.4 1058.6 1827.5 1190.2 1827.5 1199.6 1795.4 1209.0 1795.4 1218.4 1783.3 1246.6 1783.3 1256.0 1750.1 1265.4 1747.7 1274.9 1740.3 1312.5 1740.3 1321.9 1738.5 1331.3 1684.4 1378.3 1684.4 1387.7 1656.2 1444.1 1656.2 1453.5 1625.8 1509.9 1625.8 1519.3 1618.3 1528.7 1618.3 1538.1 1580.9 1622.8 1580.9 1632.2 1541.6 1716.8 1541.6 1726.2 1471.6 1820.2 1471.6 1829.6 1437.5 1895.5 1437.5 1904.9 1375.7 1942.5 1375.7 1951.9 1334.2 2102.3 1334.2 2111.7 1318.2 2149.4 1318.2 2158.8 1282.7 3700.9 1282.7" stroke="#3092c1"/>
<path d="M268.7 2118.5 607.2 2118.5 616.6 2064.2 861.1 2064.2 870.5 2063.0 898.7 2063.0 908.1 2014.1 945.7 2014.1 955.1 2013.6 964.5 2013.6 973.9 1969.7 1086.8 1969.7 1096.2 1933.7 1171.4 1933.7 1180.8 1885.2 1190.2 1885.2 1199.6 1878.3 1246.6 1878.3 1256.0 1859.7 1265.4 1833.0 1350.1 1833.0 1359.5 1777.1 1368.9 1777.1 1378.3 1740.8 1434.7 1740.8 1444.1 1738.0 1472.3 1738.0 1481.7 1696.3 1500.5 1696.3 1509.9 1687.4 1604.0 1687.4 1613.4 1654.5 1660.4 1654.5 1669.8 1618.1 1773.2 1618.1 1782.6 1613.0 1792.0 1613.0 1801.4 1545.5 1810.8 1438.0 3700.9 1438.0" stroke="#51b2ce"/>
<path d="M268.7 2118.5 654.2 2118.5 663.6 2034.5 729.5 2034.5 738.9 2009.3 832.9 2009.3 842.3 1941.3 917.5 1941.3 926.9 1925.4 955.1 1925.4 964.5 1847.6 1171.4 1847.6 1180.8 1720.3 1293.7 1720.3 1303.1 1666.5 1312.5 1622.2 1387.7 1622.2 1397.1 1586.7 1425.3 1586.7 1434.7 1564.1 1453.5 1564.1 1462.9 1545.4 1472.3 1545.4 1481.7 1492.9 1538.1 1492.9 1547.5 1460.8 1632.2 1460.8 1641.6 1419.3 1829.6 1419.3 1839.1 1269.0 1942.5 1269.0 1951.9 1245.8 1970.7 1245.8 1980.1 1161.0 3700.9 1161.0" stroke="#1b7bb5"/>
<path d="M268.7 2118.5 579.0 2118.5 588.4 2087.3 673.0 2087.3 682.4 2042.7 814.1 2042.7 823.5 1992.3 861.1 1992.3 870.5 1934.2 1021.0 1934.2 1030.4 1877.8 1049.2 1877.8 1058.6 1867.6 1068.0 1867.6 1077.4 1863.3 1086.8 1854.7 1096.2 1834.2 1171.4 1834.2 1180.8 1809.3 1237.2 1809.3 1246.6 1804.0 1256.0 1804.0 1265.4 1770.5 1303.1 1770.5 1312.5 1761.5 1538.1 1761.5 1547.5 1701.5 1557.0 1667.1 1641.6 1667.1 1651.0 1661.0 1660.4 1628.5 1745.0 1628.5 1754.4 1603.5 1820.2 1603.5 1829.6 1580.2 1895.5 1580.2 1904.9 1556.0 2008.3 1556.0 2017.7 1548.9 2092.9 1548.9 2102.3 1529.9 2130.6 1529.9 2140.0 1514.4 2224.6 1514.4 2234.0 1513.5 3700.9 1513.5" stroke="#5bbbce"/>
<path d="M268.7 2118.5 560.2 2118.5 569.6 2058.6 720.1 2058.6 729.5 2031.3 767.1 2031.3 776.5 1992.9 823.5 1992.9 832.9 1951.8 898.7 1951.8 908.1 1903.8 926.9 1903.8 936.3 1842.8 1171.4 1842.8 1180.8 1628.2 1284.3 1628.2 1293.7 1573.9 1444.1 1573.9 1453.5 1452.1 1594.6 1452.1 1604.0 1352.5 1660.4 1352.5 1669.8 1306.6 1754.4 1306.6 1763.8 1279.5 1923.7 1279.5 1933.1 1221.3 1942.5 1221.3 1951.9 1197.5 2092.9 1197.5 2102.3 1185.4 3700.9 1185.4" stroke="#1c7db6"/>
<path d="M268.7 2118.5 513.2 2118.5 522.6 2089.5 851.7 2089.5 861.1 2054.2 1011.6 2054.2 1021.0 1992.9 1086.8 1992.9 1096.2 1962.7 1105.6 1923.0 1227.8 1923.0 1237.2 1864.2 1284.3 1864.2 1293.7 1820.7 1331.3 1820.7 1340.7 1816.3 1415.9 1816.3 1425.3 1744.7 1444.1 1744.7 1453.5 1712.3 1519.3 1712.3 1528.7 1646.8 1632.2 1646.8 1641.6 1616.3 1669.8 1616.3 1679.2 1568.7 1745.0 1568.7 1754.4 1557.5 1763.8 1557.5 1773.2 1535.8 1820.2 1535.8 1829.6 1533.0 1848.5 1533.0 1857.9 1503.8 1904.9 1503.8 1914.3 1484.0 2083.5 1484.0 2092.9 1389.8 2168.2 1389.8 2177.6 1353.0 3700.9 1353.0" stroke="#3fa2c8"/>
<path d="M268.7 2118.5 738.9 2118.5 748.3 1933.7 842.3 1933.7 851.7 1869.3 870.5 1869.3 879.9 1861.8 955.1 1861.8 964.5 1757.7 1049.2 1757.7 1058.6 1740.7 1105.6 1740.7 1115.0 1733.9 1124.4 1733.9 1133.8 1654.5 1237.2 1654.5 1246.6 1618.2 1359.5 1618.2 1368.9 1462.9 1415.9 1462.9 1425.3 1411.7 1528.7 1411.7 1538.1 1387.8 1547.5 1331.5 1594.6 1331.5 1604.0 1326.2 1698.0 1326.2 1707.4 1242.7 1716.8 1229.6 1773.2 1229.6 1782.6 1192.3 1820.2 1192.3 1829.6 1119.7 1933.1 1119.7 1942.5 1056.5 3700.9 1056.5" stroke="#1471af"/>
<path d="M268.7 2118.5 569.6 2118.5 579.0 2061.8 616.6 2061.8 626.0 2042.5 654.2 2042.5 663.6 1977.9 720.1 1977.9 729.5 1958.6 785.9 1958.6 795.3 1896.8 851.7 1896.8 861.1 1862.3 889.3 1862.3 898.7 1823.3 926.9 1823.3 936.3 1807.3 945.7 1807.3 955.1 1761.5 1068.0 1761.5 1077.4 1719.0 1096.2 1719.0 1105.6 1648.5 1143.2 1648.5 1152.6 1603.7 1265.4 1603.7 1274.9 1602.9 1284.3 1587.8 1293.7 1587.8 1303.1 1554.0 1359.5 1554.0 1368.9 1528.2 1387.7 1528.2 1397.1 1503.7 1425.3 1503.7 1434.7 1490.2 1444.1 1490.2 1453.5 1440.3 1557.0 1440.3 1566.4 1428.4 1594.6 1428.4 1604.0 1380.7 1613.4 1371.7 1622.8 1371.7 1632.2 1351.8 1679.2 1351.8 1688.6 1319.0 1801.4 1319.0 1810.8 1307.0 1820.2 1300.6 1829.6 1300.6 1839.1 1295.1 1970.7 1295.1 1980.1 1246.8 2205.8 1246.8 2215.2 1219.2 3700.9 1219.2" stroke="#2284ba"/>
<path d="M268.7 2118.5 409.7 2118.5 419.2 2114.5 522.6 2114.5 532.0 2084.0 917.5 2084.0 926.9 2020.1 1049.2 2020.1 1058.6 2001.0 1077.4 2001.0 1086.8 1958.0 1124.4 1958.0 1133.8 1948.5 1246.6 1948.5 1256.0 1888.4 1321.9 1888.4 1331.3 1879.2 1538.1 1879.2 1547.5 1769.0 1641.6 1769.0 1651.0 1745.5 1669.8 1745.5 1679.2 1740.7 1688.6 1732.2 1754.4 1732.2 1763.8 1697.6 1820.2 1697.6 1829.6 1691.9 1839.1 1681.3 1942.5 1681.3 1951.9 1671.5 1980.1 1671.5 1989.5 1647.7 2008.3 1647.7 2017.7 1588.0 3700.9 1588.0" stroke="#67c1cb"/>
<path d="M268.7 2118.5 588.4 2118.5 597.8 2040.5 682.4 2040.5 691.8 1970.2 701.3 1956.3 767.1 1956.3 776.5 1841.8 889.3 1841.8 898.7 1792.5 1002.2 1792.5 1011.6 1718.5 1021.0 1676.9 1058.6 1676.9 1068.0 1651.6 1124.4 1651.6 1133.8 1578.1 1218.4 1578.1 1227.8 1501.3 1303.1 1501.3 1312.5 1483.4 1453.5 1483.4 1462.9 1389.9 1566.4 1389.9 1575.8 1337.0 1585.2 1337.0 1594.6 1256.1 1679.2 1256.1 1688.6 1193.5 1801.4 1193.5 1810.8 1170.0 1829.6 1170.0 1839.1 1133.9 1904.9 1133.9 1914.3 1086.4 2017.7 1086.4 2027.1 1045.6 3700.9 1045.6" stroke="#1470ae"/>
<path d="M268.7 2118.5 485.0 2118.5 494.4 2104.9 682.4 2104.9 691.8 2078.6 832.9 2078.6 842.3 2045.6 851.7 2012.4 992.8 2012.4 1002.2 1959.0 1058.6 1959.0 1068.0 1936.3 1199.6 1936.3 1209.0 1854.1 1265.4 1854.1 1274.9 1782.8 1359.5 1782.8 1368.9 1744.9 1406.5 1744.9 1415.9 1700.3 1547.5 1700.3 1557.0 1680.1 1604.0 1680.1 1613.4 1649.0 1688.6 1649.0 1698.0 1608.5 1754.4 1608.5 1763.8 1597.4 1792.0 1597.4 1801.4 1589.7 1820.2 1589.7 1829.6 1571.4 1839.1 1571.4 1848.5 1553.4 1876.7 1553.4 1886.1 1536.3 1942.5 1536.3 1951.9 1530.2 1980.1 1530.2 1989.5 1473.2 2111.7 1473.2 2121.2 1429.5 2215.2 1429.5 2224.6 1416.6 3700.9 1416.6" stroke="#4eb0cd"/>
<path d="M268.7 2118.5 1733.7 2118.5 1742.2 2091.6 1777.0 2091.6 1786.4 2083.7 1951.9 2083.7 1961.3 1915.2 3700.9 1915.2" stroke="#7accc4"/>
<path d="M268.7 2118.5 477.0 2118.5 486.0 1783.0 748.0 1783.0 785.0 1742.0 822.0 1660.0 832.0 1611.5 841.0 1493.0 916.0 1493.0 928.5 1424.4 947.0 1356.0 966.0 1356.0 969.0 1324.7 1047.0 1324.7 1053.0 1293.5 1072.0 1293.5 1078.0 1243.6 1115.5 1243.6 1124.6 1172.5 1143.0 1172.5 1154.0 1160.0 1171.5 1160.0 1181.0 1119.4 1190.0 1109.0 1209.0 915.0 1238.0 915.0 1246.5 913.0 1256.0 913.0 1274.6 896.0 1284.0 896.0 1294.7 861.7 1304.0 860.0 1340.0 860.0 1350.0 785.0 1359.0 781.7 1378.0 781.7 1388.5 731.7 1396.6 729.8 1407.0 679.8 1415.0 679.8 1424.0 674.0 1472.8 673.9 1486.0 658.8 1513.0 656.0 1529.0 648.0 1723.0 648.0 1745.0 643.7 1858.0 641.5 1869.0 636.0 1933.7 636.0 1943.4 619.5 1951.9 616.7 2225.0 616.7 2233.5 600.3 3700.9 600.3" stroke="#084d8f"/>
<path d="M268.7 2118.5 597.8 2118.5 607.2 2104.0 654.2 2104.0 663.6 2078.8 748.3 2078.8 757.7 1875.5 814.1 1875.5 823.5 1859.8 861.1 1859.8 870.5 1732.8 879.9 1732.8 889.3 1700.4 964.5 1700.4 973.9 1582.7 1030.4 1582.7 1039.8 1581.5 1039.8 1581.5 1049.2 1576.8 1058.6 1576.8 1068.0 1532.4 1077.4 1532.4 1086.8 1484.4 1133.8 1484.4 1143.2 1415.4 1199.6 1415.4 1209.0 1329.7 1237.2 1329.7 1246.6 1297.1 1256.0 1297.1 1265.4 1254.1 1321.9 1254.1 1331.3 1217.4 1378.3 1217.4 1387.7 1135.8 1481.7 1135.8 1491.1 1107.3 1547.5 1107.3 1557.0 1093.6 1557.0 1093.6 1566.4 1019.8 1660.4 1019.8 1669.8 928.6 1698.0 928.6 1707.4 898.6 1754.4 898.6 1763.8 882.3 1773.2 882.3 1782.6 873.4 1809.5 873.4 1818.9 873.4 1828.8 862.0 1838.7 805.5 1876.9 805.5 1885.4 729.0 1913.7 729.0 1923.6 720.6 1971.7 720.6 1990.0 703.6 1998.6 700.8 2045.3 700.8 2055.2 695.1 2196.7 695.1 2205.2 627.2 2215.2 586.1 2225.0 577.6 2243.4 577.6 2253.4 510.1 3700.9 510.1" stroke="#084688"/>
<path d="M268.7 2118.5 494.4 2118.5 503.8 2047.0 513.2 2047.0 522.6 2032.3 541.4 2032.3 550.8 1966.1 597.8 1966.1 607.2 1922.9 663.6 1922.9 673.0 1834.4 673.0 1834.4 682.4 1779.5 691.8 1779.5 701.3 1730.4 720.1 1730.4 729.5 1723.5 729.5 1723.5 738.9 1723.4 767.1 1723.4 776.5 1706.2 785.9 1706.2 795.3 1664.3 842.3 1664.3 851.7 1641.9 870.5 1641.9 879.9 1640.6 926.9 1640.6 936.3 1572.3 992.8 1572.3 1002.2 1401.6 1068.0 1401.6 1077.4 1366.8 1077.4 1366.8 1086.8 1307.7 1115.0 1307.7 1124.4 1299.9 1133.8 1299.9 1143.2 1293.3 1190.2 1293.3 1199.6 1223.0 1256.0 1223.0 1265.4 1162.0 1312.5 1162.0 1321.9 1102.1 1321.9 1102.1 1331.3 1066.8 1368.9 1066.8 1378.3 1062.7 1406.5 1062.7 1415.9 1051.3 1425.3 1051.3 1434.7 964.6 1462.9 964.6 1472.3 957.6 1557.0 957.6 1566.4 935.1 1566.4 935.1 1575.8 903.7 1575.8 903.7 1585.2 902.6 1594.6 902.6 1604.0 853.6 1690.6 853.6 1700.0 853.6 1707.0 853.6 1717.0 836.6 1725.5 836.6 1736.8 785.7 1867.0 785.7 1876.9 770.1 1885.4 770.1 1895.3 753.1 2008.5 753.1 2017.0 703.6 2055.2 703.6 2065.0 686.6 2093.4 686.6 2101.9 586.1 3700.9 586.0" stroke="#084c8e"/>
<path d="M268.7 2118.5 503.8 2118.5 513.2 2104.5 522.6 2104.5 532.0 2092.4 663.6 2092.4 673.0 1955.3 691.8 1955.3 701.3 1927.3 701.3 1927.3 710.7 1911.4 710.7 1911.4 720.1 1881.4 795.3 1881.4 804.7 1760.9 870.5 1760.9 879.9 1731.7 917.5 1731.7 926.9 1588.1 936.3 1588.1 945.7 1561.5 945.7 1561.5 955.1 1540.5 983.4 1540.5 992.8 1500.6 1002.2 1500.6 1011.6 1436.2 1124.4 1436.2 1133.8 1372.6 1162.0 1372.6 1171.4 1359.2 1199.6 1359.2 1209.0 1261.6 1265.4 1261.6 1274.9 1231.0 1274.9 1231.0 1284.3 1202.7 1321.9 1202.7 1331.3 1154.1 1331.3 1154.1 1340.7 1146.5 1397.1 1146.5 1406.5 1119.5 1406.5 1119.5 1415.9 1039.6 1538.1 1039.6 1547.5 960.4 1679.2 960.4 1688.6 943.2 1688.6 943.2 1698.0 900.0 1720.3 900.0 1729.7 900.0 1735.4 828.1 1745.3 828.1 1753.8 822.5 1773.6 821.1 1783.5 816.8 1793.4 816.8 1801.9 729.0 1810.4 682.4 1830.2 682.4 1838.7 677.3 1848.6 677.3 1858.5 665.4 1933.5 665.4 1942.0 662.6 1961.8 662.6 1971.7 647.0 1980.2 613.0 1988.7 609.6 3700.9 609.3" stroke="#084d90"/>
</g>
<g clip-path="url(#ax)" fill="none" stroke-linejoin="round" stroke-linecap="square" stroke-width="20.8">
<path d="M268.7 2118.5 480.0 2117.0 560.0 2112.0 727.0 2112.0 733.0 2030.0 752.0 1990.0 770.0 1968.0 788.0 1932.0 802.0 1898.0 808.0 1888.0 828.0 1885.0 862.0 1880.0 867.0 1863.0 870.0 1822.0 877.0 1812.0 887.0 1813.0 985.0 1813.0 1001.0 1788.0 1028.0 1783.0 1055.0 1696.0 1070.0 1686.0 1078.0 1667.0 1127.0 1663.0 1140.0 1580.0 1146.0 1575.0 1159.0 1527.0 1205.0 1521.0 1210.0 1513.0 1229.0 1443.0 1234.0 1440.0 1243.0 1427.0 1256.0 1421.0 1282.0 1414.6 1302.0 1408.0 1315.0 1408.0 1326.0 1347.0 1343.0 1330.0 1353.0 1273.0 1366.0 1266.0 1370.0 1145.0 1383.0 1138.0 1400.0 1125.0 1407.0 1051.0 1430.0 1047.0 1444.0 983.0 1457.0 949.0 1461.8 765.2 1471.6 750.7 1498.3 750.7 1512.8 747.0 1522.5 745.8 1532.2 741.0 1546.8 738.5 1563.8 738.5 1578.3 733.7 1585.6 733.7 1595.3 679.1 1605.0 676.6 1624.5 676.6 1631.7 659.7 1658.4 659.7 1677.9 592.9 1731.3 592.9 1745.8 589.3 1772.5 589.3 1782.2 577.1 1808.9 577.1 1818.6 569.9 1832.0 552.9 1845.4 552.9 1857.5 543.2 1876.9 537.1 1891.5 537.1 1903.6 526.2 1921.8 526.2 1932.7 516.5 1981.3 516.5 1991.0 500.7 1998.3 497.8 2222.5 497.8 2234.0 472.0 2245.0 472.0 3700.9 472.0" stroke="#08306b"/>
<path d="M268.7 2118.5 915.0 2118.5 935.0 2100.0 1002.0 2100.0 1012.0 2085.0 1119.0 2085.0 1140.0 2051.0 1252.0 2051.0 1270.0 2026.0 1319.0 2026.0 1329.0 1991.6 1386.0 1991.6 1398.0 1929.0 1472.0 1929.0 1482.0 1899.0 1660.0 1899.0 1673.0 1827.0 1840.0 1827.0 1853.0 1789.5 3700.9 1789.5" stroke="#6aaed6"/>
<path d="M268.7 2118.5 287.5 2118.2 306.3 2117.9 325.1 2117.6 343.9 2117.2 362.7 2116.5 381.5 2115.5 400.3 2114.4 419.2 2113.1 438.0 2111.6 456.8 2110.1 475.6 2108.6 494.4 2107.1 513.2 2105.5 532.0 2103.4 550.8 2100.9 569.6 2097.8 588.4 2094.4 607.2 2090.2 626.0 2084.9 644.8 2078.1 663.6 2070.1 682.4 2061.4 701.3 2052.7 720.1 2043.8 738.9 2034.0 757.7 2022.7 776.5 2009.7 795.3 1995.1 814.1 1979.7 832.9 1963.9 851.7 1947.5 870.5 1930.3 889.3 1913.3 908.1 1897.3 926.9 1881.8 945.7 1866.8 964.5 1852.2 983.4 1837.9 1002.2 1824.3 1021.0 1811.1 1039.8 1798.2 1058.6 1785.1 1077.4 1771.4 1096.2 1757.2 1115.0 1742.8 1133.8 1728.4 1152.6 1714.1 1171.4 1700.2 1190.2 1686.5 1209.0 1673.0 1227.8 1659.6 1246.6 1646.4 1265.4 1633.3 1284.3 1620.4 1303.1 1607.8 1321.9 1595.4 1340.7 1583.3 1359.5 1571.4 1378.3 1559.7 1397.1 1548.0 1415.9 1536.4 1434.7 1524.6 1453.5 1513.0 1472.3 1501.3 1491.1 1489.8 1509.9 1478.2 1528.7 1466.7 1547.5 1455.1 1566.4 1443.5 1585.2 1432.0 1604.0 1420.4 1622.8 1408.9 1641.6 1397.4 1660.4 1386.0 1679.2 1374.5 1698.0 1362.9 1716.8 1351.4 1735.6 1339.9 1754.4 1328.6 1773.2 1317.6 1792.0 1307.1 1810.8 1296.8 1829.6 1286.8 1848.5 1277.1 1867.3 1267.6 1886.1 1258.5 1904.9 1249.8 1923.7 1241.5 1942.5 1233.7 1961.3 1226.2 1980.1 1219.1 1998.9 1212.4 2017.7 1206.1 2036.5 1200.1 2055.3 1194.5 2074.1 1189.3 2092.9 1184.4 2111.7 1179.9 2130.6 1175.8 2149.4 1172.1 2168.2 1168.8 2187.0 1165.9 2205.8 1163.7 2224.6 1162.3 2243.4 1161.5 2262.2 1160.9 2281.0 1160.5 2299.8 1160.2 2318.6 1160.1 2337.4 1160.1 2356.2 1160.1 2375.0 1160.1 2393.8 1160.1 2412.7 1160.1 2431.5 1160.1 2450.3 1160.1 2469.1 1160.1 2487.9 1160.1 2506.7 1160.1 2525.5 1160.1 2544.3 1160.1 2563.1 1160.1 2581.9 1160.1 2600.7 1160.1 2619.5 1160.1 2638.3 1160.1 2657.1 1160.1 2675.9 1160.1 2694.8 1160.1 2713.6 1160.1 2732.4 1160.1 2751.2 1160.1 2770.0 1160.1 2788.8 1160.1 2807.6 1160.1 2826.4 1160.1 2845.2 1160.1 2864.0 1160.1 2882.8 1160.1 2901.6 1160.1 2920.4 1160.1 2939.2 1160.1 2958.0 1160.1 2976.9 1160.1 2995.7 1160.1 3014.5 1160.1 3033.3 1160.1 3052.1 1160.1 3070.9 1160.1 3089.7 1160.1 3108.5 1160.1 3127.3 1160.1 3146.1 1160.1 3164.9 1160.1 3183.7 1160.1 3202.5 1160.1 3221.3 1160.1 3240.1 1160.1 3258.9 1160.1 3277.8 1160.1 3296.6 1160.1 3315.4 1160.1 3334.2 1160.1 3353.0 1160.1 3371.8 1160.1 3390.6 1160.1 3409.4 1160.1 3428.2 1160.1 3447.0 1160.1 3465.8 1160.1 3484.6 1160.1 3503.4 1160.1 3522.2 1160.1 3541.0 1160.1 3559.9 1160.1 3578.7 1160.1 3597.5 1160.1 3616.3 1160.1 3635.1 1160.1 3653.9 1160.1 3672.7 1160.1 3691.5 1160.1 3700.9 1160.1" stroke="#2171b5"/>
<path d="M268.7 2118.5 1002.2 2118.5 1011.6 2100.9 1021.0 2100.9 1030.4 2084.9 1632.2 2084.9 1641.6 2034.5 1769.5 2034.5 1778.9 2017.7 1904.9 2017.7 1914.3 1986.6 2017.7 1986.6" stroke="#000"/>
</g>
<circle cx="2017.7" cy="1986.6" r="23" fill="#000"/>
<rect x="222.5" y="270.5" width="3488.0" height="1848.0" fill="none" stroke="#fff" stroke-width="3.33"/>
<path d="M3710.5 2118.5H3725.1M3710.5 1787.8H3725.1M3710.5 1457.1H3725.1M3710.5 1126.4H3725.1M3710.5 795.7H3725.1M3710.5 465.0H3725.1" stroke="#fff" stroke-width="3.33"/>
<text x="900.00" y="94.10" font-size="88.33" fill="#fff" textLength="2022.29" lengthAdjust="spacingAndGlyphs" xml:space="preserve">2020-2021 Accumulated Snowfall For Winter, WI</text>
<text x="355.50" y="245.30" font-size="53.00" fill="#fff" textLength="3220.87" lengthAdjust="spacingAndGlyphs" xml:space="preserve">GHCN-D ID= USC00479304 | LAT= 45.7992 | LON= -90.9947 | ELEV= 1354' | Period= 1915-2021 | Season To Date Report= 51%</text>
<text x="294.36" y="329.00" font-size="30.92" fill="#fff" textLength="1339.35" lengthAdjust="spacingAndGlyphs" xml:space="preserve">Generated by Jared Rennie (@jjrennie) on: 2021-09-28 08:42 Eastern. Data up to 20210405</text>
<text x="148.64" y="2133.50" font-size="44.17" fill="#fff" textLength="42.81" lengthAdjust="spacingAndGlyphs" xml:space="preserve">0&quot;</text>
<text x="122.25" y="1965.50" font-size="44.17" fill="#fff" textLength="69.16" lengthAdjust="spacingAndGlyphs" xml:space="preserve">10&quot;</text>
<text x="121.92" y="1797.50" font-size="44.17" fill="#fff" textLength="69.50" lengthAdjust="spacingAndGlyphs" xml:space="preserve">20&quot;</text>
<text x="122.66" y="1629.50" font-size="44.17" fill="#fff" textLength="68.74" lengthAdjust="spacingAndGlyphs" xml:space="preserve">30&quot;</text>
<text x="122.23" y="1461.50" font-size="44.17" fill="#fff" textLength="69.18" lengthAdjust="spacingAndGlyphs" xml:space="preserve">40&quot;</text>
<text x="122.67" y="1293.50" font-size="44.17" fill="#fff" textLength="68.73" lengthAdjust="spacingAndGlyphs" xml:space="preserve">50&quot;</text>
<text x="121.79" y="1125.50" font-size="44.17" fill="#fff" textLength="69.63" lengthAdjust="spacingAndGlyphs" xml:space="preserve">60&quot;</text>
<text x="122.31" y="957.50" font-size="44.17" fill="#fff" textLength="69.10" lengthAdjust="spacingAndGlyphs" xml:space="preserve">70&quot;</text>
<text x="122.03" y="789.50" font-size="44.17" fill="#fff" textLength="69.39" lengthAdjust="spacingAndGlyphs" xml:space="preserve">80&quot;</text>
<text x="121.66" y="621.50" font-size="44.17" fill="#fff" textLength="69.77" lengthAdjust="spacingAndGlyphs" xml:space="preserve">90&quot;</text>
<text x="95.76" y="453.50" font-size="44.17" fill="#fff" textLength="95.73" lengthAdjust="spacingAndGlyphs" xml:space="preserve">100&quot;</text>
<text x="3739.09" y="2133.30" font-size="44.17" fill="#fff" textLength="24.46" lengthAdjust="spacingAndGlyphs" xml:space="preserve">0</text>
<text x="3739.50" y="1802.59" font-size="44.17" fill="#fff" textLength="77.13" lengthAdjust="spacingAndGlyphs" xml:space="preserve">500</text>
<text x="3739.09" y="1471.88" font-size="44.17" fill="#fff" textLength="104.12" lengthAdjust="spacingAndGlyphs" xml:space="preserve">1000</text>
<text x="3739.09" y="1141.17" font-size="44.17" fill="#fff" textLength="104.12" lengthAdjust="spacingAndGlyphs" xml:space="preserve">1500</text>
<text x="3738.75" y="810.47" font-size="44.17" fill="#fff" textLength="104.46" lengthAdjust="spacingAndGlyphs" xml:space="preserve">2000</text>
<text x="3738.75" y="479.76" font-size="44.17" fill="#fff" textLength="104.46" lengthAdjust="spacingAndGlyphs" xml:space="preserve">2500</text>
<text x="213.35" y="2178.00" font-size="44.17" fill="#fff" textLength="109.97" lengthAdjust="spacingAndGlyphs" xml:space="preserve">Oct 1</text>
<text x="500.39" y="2178.00" font-size="44.17" fill="#fff" textLength="119.03" lengthAdjust="spacingAndGlyphs" xml:space="preserve">Nov 1</text>
<text x="773.46" y="2178.00" font-size="44.17" fill="#fff" textLength="118.24" lengthAdjust="spacingAndGlyphs" xml:space="preserve">Dec 1</text>
<text x="1069.99" y="2178.00" font-size="44.17" fill="#fff" textLength="104.86" lengthAdjust="spacingAndGlyphs" xml:space="preserve">Jan 1</text>
<text x="1350.63" y="2178.00" font-size="44.17" fill="#fff" textLength="111.12" lengthAdjust="spacingAndGlyphs" xml:space="preserve">Feb 1</text>
<text x="1639.55" y="2178.00" font-size="44.17" fill="#fff" textLength="116.22" lengthAdjust="spacingAndGlyphs" xml:space="preserve">Mar 1</text>
<text x="1924.80" y="2178.00" font-size="44.17" fill="#fff" textLength="109.81" lengthAdjust="spacingAndGlyphs" xml:space="preserve">Apr 1</text>
<text x="2209.40" y="2178.00" font-size="44.17" fill="#fff" textLength="123.69" lengthAdjust="spacingAndGlyphs" xml:space="preserve">May 1</text>
<text x="2508.26" y="2178.00" font-size="44.17" fill="#fff" textLength="105.76" lengthAdjust="spacingAndGlyphs" xml:space="preserve">Jun 1</text>
<text x="2797.77" y="2178.00" font-size="44.17" fill="#fff" textLength="91.05" lengthAdjust="spacingAndGlyphs" xml:space="preserve">Jul 1</text>
<text x="3076.77" y="2178.00" font-size="44.17" fill="#fff" textLength="119.07" lengthAdjust="spacingAndGlyphs" xml:space="preserve">Aug 1</text>
<text x="3360.78" y="2178.00" font-size="44.17" fill="#fff" textLength="115.63" lengthAdjust="spacingAndGlyphs" xml:space="preserve">Sep 1</text>
<g transform="translate(0,0) rotate(-90)">
<text x="-1579.54" y="67.00" font-size="53.00" fill="#fff" textLength="769.46" lengthAdjust="spacingAndGlyphs" xml:space="preserve">Accumulated Snowfall (inches)</text>
</g>
<g transform="rotate(90)">
<text x="842.06" y="-3891.00" font-size="53.00" fill="#fff" textLength="705.50" lengthAdjust="spacingAndGlyphs" xml:space="preserve">Accumulated Snowfall (mm)</text>
</g>
<rect x="222" y="2218" width="3488.5" height="87.7" rx="11" ry="11" fill="#666666" stroke="#bbbbbb" stroke-width="3.33"/>
<rect x="232" y="2249.1" width="121" height="20.9" fill="#08306b"/>
<text x="381.91" y="2277.30" font-size="53.00" fill="#fff" textLength="627.15" lengthAdjust="spacingAndGlyphs" xml:space="preserve">Max (1970-1971):   97.9&quot;</text>
<rect x="1111" y="2249.1" width="121" height="20.9" fill="#6aaed6"/>
<text x="1257.60" y="2277.30" font-size="53.00" fill="#fff" textLength="612.52" lengthAdjust="spacingAndGlyphs" xml:space="preserve">Min (1930-1931):   19.5&quot;</text>
<rect x="1974" y="2249.1" width="121" height="20.9" fill="#2171b5"/>
<text x="2124.36" y="2277.30" font-size="53.00" fill="#fff" textLength="616.26" lengthAdjust="spacingAndGlyphs" xml:space="preserve">Avg (1991-2020):   57.3&quot;</text>
<rect x="2841" y="2249.1" width="121" height="20.9" fill="#000000"/>
<text x="2989.85" y="2277.30" font-size="53.00" fill="#fff" textLength="696.05" lengthAdjust="spacingAndGlyphs" xml:space="preserve">Current (2020-2021):    7.8&quot;</text>
</svg></body></html>
